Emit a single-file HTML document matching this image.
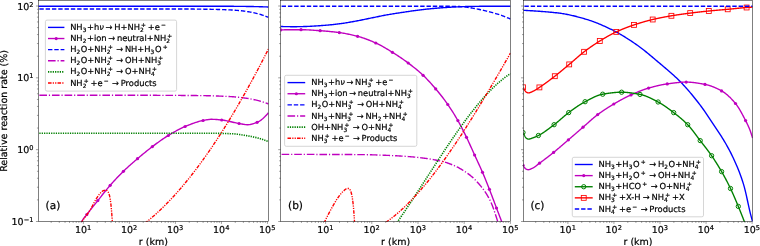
<!DOCTYPE html>
<html><head><meta charset="utf-8"><title>Relative reaction rates</title>
<style>html,body{margin:0;padding:0;background:#fff}svg{display:block}text{stroke:#000;stroke-width:0.2px;paint-order:stroke}</style></head>
<body>
<svg width="760" height="246" viewBox="0 0 760 246" font-family="'DejaVu Sans', 'Liberation Sans', sans-serif" fill="#000" text-rendering="geometricPrecision">
<defs>
<clipPath id="c0"><rect x="38.35" y="0.35" width="230.10" height="221.15"/></clipPath>
<clipPath id="c1"><rect x="280.6" y="0.35" width="229.90" height="221.15"/></clipPath>
<clipPath id="c2"><rect x="523.4" y="0.35" width="229.20" height="221.15"/></clipPath>
</defs>
<rect width="760" height="246" fill="#fff"/>
<g transform="translate(0,0.2)">
<path d="M38.35,6.05 L39.35,6.05 L40.35,6.05 L41.35,6.05 L42.35,6.05 L43.35,6.05 L44.35,6.05 L45.35,6.05 L46.35,6.05 L47.35,6.05 L48.35,6.05 L49.35,6.05 L50.35,6.05 L51.35,6.05 L52.35,6.05 L53.35,6.05 L54.35,6.05 L55.35,6.05 L56.35,6.05 L57.35,6.05 L58.35,6.05 L59.35,6.05 L60.35,6.05 L61.35,6.05 L62.35,6.05 L63.35,6.05 L64.35,6.05 L65.35,6.05 L66.35,6.05 L67.35,6.05 L68.35,6.05 L69.35,6.05 L70.35,6.05 L71.35,6.05 L72.35,6.05 L73.35,6.05 L74.35,6.05 L75.35,6.05 L76.35,6.05 L77.35,6.05 L78.35,6.05 L79.35,6.05 L80.35,6.05 L81.35,6.05 L82.35,6.05 L83.35,6.05 L84.35,6.05 L85.35,6.05 L86.35,6.05 L87.35,6.05 L88.35,6.05 L89.35,6.05 L90.35,6.05 L91.35,6.05 L92.35,6.05 L93.35,6.05 L94.35,6.05 L95.35,6.05 L96.35,6.05 L97.35,6.05 L98.35,6.05 L99.35,6.05 L100.35,6.05 L101.35,6.05 L102.35,6.05 L103.35,6.05 L104.35,6.05 L105.35,6.05 L106.35,6.05 L107.35,6.05 L108.35,6.05 L109.35,6.05 L110.35,6.05 L111.35,6.05 L112.35,6.05 L113.35,6.05 L114.35,6.05 L115.35,6.05 L116.35,6.05 L117.35,6.05 L118.35,6.05 L119.35,6.05 L120.35,6.05 L121.35,6.05 L122.35,6.05 L123.35,6.05 L124.35,6.05 L125.35,6.05 L126.35,6.05 L127.35,6.05 L128.35,6.05 L129.35,6.05 L130.35,6.05 L131.35,6.05 L132.35,6.05 L133.35,6.05 L134.35,6.05 L135.35,6.05 L136.35,6.05 L137.35,6.05 L138.35,6.05 L139.35,6.05 L140.35,6.05 L141.35,6.05 L142.35,6.05 L143.35,6.05 L144.35,6.05 L145.35,6.05 L146.35,6.05 L147.35,6.05 L148.35,6.05 L149.35,6.05 L150.35,6.05 L151.35,6.05 L152.35,6.05 L153.35,6.05 L154.35,6.05 L155.35,6.05 L156.35,6.05 L157.35,6.05 L158.35,6.05 L159.35,6.05 L160.35,6.05 L161.35,6.05 L162.35,6.05 L163.35,6.05 L164.35,6.05 L165.35,6.05 L166.35,6.05 L167.35,6.05 L168.35,6.05 L169.35,6.05 L170.35,6.05 L171.35,6.05 L172.35,6.05 L173.35,6.05 L174.35,6.05 L175.35,6.05 L176.35,6.05 L177.35,6.05 L178.35,6.06 L179.35,6.06 L180.35,6.06 L181.35,6.06 L182.35,6.06 L183.35,6.06 L184.35,6.06 L185.35,6.06 L186.35,6.06 L187.35,6.06 L188.35,6.06 L189.35,6.06 L190.35,6.06 L191.35,6.06 L192.35,6.06 L193.35,6.06 L194.35,6.06 L195.35,6.06 L196.35,6.06 L197.35,6.07 L198.35,6.07 L199.35,6.07 L200.35,6.07 L201.35,6.07 L202.35,6.07 L203.35,6.07 L204.35,6.07 L205.35,6.07 L206.35,6.07 L207.35,6.07 L208.35,6.07 L209.35,6.08 L210.35,6.08 L211.35,6.08 L212.35,6.08 L213.35,6.08 L214.35,6.08 L215.35,6.08 L216.35,6.08 L217.35,6.08 L218.35,6.08 L219.35,6.09 L220.35,6.09 L221.35,6.09 L222.35,6.09 L223.35,6.09 L224.35,6.09 L225.35,6.09 L226.35,6.09 L227.35,6.10 L228.35,6.10 L229.35,6.10 L230.35,6.10 L231.35,6.10 L232.35,6.11 L233.35,6.11 L234.35,6.12 L235.35,6.12 L236.35,6.13 L237.35,6.14 L238.35,6.15 L239.35,6.16 L240.35,6.17 L241.35,6.18 L242.35,6.19 L243.35,6.21 L244.35,6.22 L245.35,6.23 L246.35,6.25 L247.35,6.26 L248.35,6.28 L249.35,6.29 L250.35,6.31 L251.35,6.32 L252.35,6.34 L253.35,6.36 L254.35,6.38 L255.35,6.40 L256.35,6.43 L257.35,6.45 L258.35,6.48 L259.35,6.51 L260.35,6.53 L261.35,6.56 L262.35,6.60 L263.35,6.63 L264.35,6.66 L265.35,6.69 L266.35,6.73 L267.35,6.76 L268.35,6.80 L268.45,6.80" fill="none" stroke="#0000ff" stroke-width="1.38" clip-path="url(#c0)" stroke-linejoin="round"/>
<path d="M81.00,224.00 L82.00,220.88 L83.00,219.08 L84.00,217.69 L85.00,216.52 L86.00,215.39 L87.00,214.13 L88.00,212.82 L89.00,211.51 L90.00,210.22 L91.00,208.94 L92.00,207.67 L93.00,206.41 L94.00,205.15 L95.00,203.90 L96.00,202.65 L97.00,201.40 L98.00,200.15 L99.00,198.89 L100.00,197.63 L101.00,196.36 L102.00,195.10 L103.00,193.83 L104.00,192.58 L105.00,191.33 L106.00,190.09 L107.00,188.87 L108.00,187.67 L109.00,186.49 L110.00,185.33 L111.00,184.19 L112.00,183.06 L113.00,181.95 L114.00,180.84 L115.00,179.75 L116.00,178.67 L117.00,177.61 L118.00,176.55 L119.00,175.51 L120.00,174.49 L121.00,173.47 L122.00,172.47 L123.00,171.49 L124.00,170.52 L125.00,169.57 L126.00,168.63 L127.00,167.70 L128.00,166.79 L129.00,165.88 L130.00,164.99 L131.00,164.10 L132.00,163.23 L133.00,162.36 L134.00,161.49 L135.00,160.63 L136.00,159.78 L137.00,158.93 L138.00,158.07 L139.00,157.23 L140.00,156.38 L141.00,155.54 L142.00,154.70 L143.00,153.87 L144.00,153.04 L145.00,152.22 L146.00,151.41 L147.00,150.60 L148.00,149.80 L149.00,149.01 L150.00,148.23 L151.00,147.46 L152.00,146.70 L153.00,145.95 L154.00,145.20 L155.00,144.46 L156.00,143.71 L157.00,142.98 L158.00,142.25 L159.00,141.53 L160.00,140.81 L161.00,140.10 L162.00,139.41 L163.00,138.72 L164.00,138.05 L165.00,137.39 L166.00,136.74 L167.00,136.10 L168.00,135.48 L169.00,134.88 L170.00,134.27 L171.00,133.67 L172.00,133.08 L173.00,132.49 L174.00,131.91 L175.00,131.34 L176.00,130.78 L177.00,130.23 L178.00,129.69 L179.00,129.16 L180.00,128.65 L181.00,128.15 L182.00,127.67 L183.00,127.21 L184.00,126.77 L185.00,126.34 L186.00,125.93 L187.00,125.52 L188.00,125.12 L189.00,124.72 L190.00,124.32 L191.00,123.94 L192.00,123.56 L193.00,123.19 L194.00,122.84 L195.00,122.49 L196.00,122.16 L197.00,121.85 L198.00,121.54 L199.00,121.26 L200.00,121.00 L201.00,120.75 L202.00,120.52 L203.00,120.32 L204.00,120.12 L205.00,119.93 L206.00,119.73 L207.00,119.55 L208.00,119.39 L209.00,119.26 L210.00,119.16 L211.00,119.11 L212.00,119.10 L213.00,119.12 L214.00,119.16 L215.00,119.21 L216.00,119.28 L217.00,119.36 L218.00,119.44 L219.00,119.54 L220.00,119.63 L221.00,119.73 L222.00,119.83 L223.00,119.95 L224.00,120.09 L225.00,120.26 L226.00,120.44 L227.00,120.64 L228.00,120.86 L229.00,121.08 L230.00,121.31 L231.00,121.55 L232.00,121.79 L233.00,122.02 L234.00,122.26 L235.00,122.49 L236.00,122.71 L237.00,122.91 L238.00,123.11 L239.00,123.28 L240.00,123.46 L241.00,123.65 L242.00,123.84 L243.00,124.03 L244.00,124.20 L245.00,124.34 L246.00,124.44 L247.00,124.49 L248.00,124.49 L249.00,124.41 L250.00,124.27 L251.00,124.07 L252.00,123.82 L253.00,123.54 L254.00,123.22 L255.00,122.87 L256.00,122.51 L257.00,122.14 L258.00,121.72 L259.00,121.20 L260.00,120.59 L261.00,119.89 L262.00,119.11 L263.00,118.26 L264.00,117.34 L265.00,116.36 L266.00,115.32 L267.00,114.24 L268.00,113.12 L268.45,112.60" fill="none" stroke="#bf00bf" stroke-width="1.38" clip-path="url(#c0)" stroke-linejoin="round"/>
<g fill="#bf00bf" clip-path="url(#c0)"><circle cx="86.80" cy="214.40" r="1.6"/><circle cx="97.80" cy="200.40" r="1.6"/><circle cx="110.20" cy="185.10" r="1.6"/><circle cx="123.40" cy="171.10" r="1.6"/><circle cx="137.50" cy="158.50" r="1.6"/><circle cx="152.40" cy="146.40" r="1.6"/><circle cx="168.30" cy="135.30" r="1.6"/><circle cx="185.10" cy="126.30" r="1.6"/><circle cx="203.10" cy="120.30" r="1.6"/><circle cx="221.70" cy="119.80" r="1.6"/><circle cx="239.10" cy="123.30" r="1.6"/><circle cx="257.10" cy="122.10" r="1.6"/></g>
<path d="M38.35,8.80 L39.35,8.80 L40.35,8.80 L41.35,8.80 L42.35,8.80 L43.35,8.80 L44.35,8.80 L45.35,8.80 L46.35,8.80 L47.35,8.80 L48.35,8.80 L49.35,8.80 L50.35,8.80 L51.35,8.80 L52.35,8.80 L53.35,8.80 L54.35,8.80 L55.35,8.80 L56.35,8.80 L57.35,8.80 L58.35,8.80 L59.35,8.80 L60.35,8.80 L61.35,8.80 L62.35,8.80 L63.35,8.80 L64.35,8.80 L65.35,8.80 L66.35,8.80 L67.35,8.80 L68.35,8.80 L69.35,8.80 L70.35,8.80 L71.35,8.80 L72.35,8.80 L73.35,8.80 L74.35,8.80 L75.35,8.80 L76.35,8.80 L77.35,8.80 L78.35,8.80 L79.35,8.80 L80.35,8.80 L81.35,8.80 L82.35,8.80 L83.35,8.80 L84.35,8.80 L85.35,8.80 L86.35,8.80 L87.35,8.80 L88.35,8.80 L89.35,8.80 L90.35,8.80 L91.35,8.80 L92.35,8.80 L93.35,8.80 L94.35,8.80 L95.35,8.80 L96.35,8.80 L97.35,8.80 L98.35,8.80 L99.35,8.80 L100.35,8.80 L101.35,8.80 L102.35,8.80 L103.35,8.80 L104.35,8.80 L105.35,8.80 L106.35,8.80 L107.35,8.80 L108.35,8.80 L109.35,8.80 L110.35,8.80 L111.35,8.80 L112.35,8.80 L113.35,8.80 L114.35,8.80 L115.35,8.80 L116.35,8.80 L117.35,8.80 L118.35,8.80 L119.35,8.80 L120.35,8.80 L121.35,8.80 L122.35,8.80 L123.35,8.80 L124.35,8.80 L125.35,8.80 L126.35,8.80 L127.35,8.80 L128.35,8.80 L129.35,8.80 L130.35,8.80 L131.35,8.80 L132.35,8.80 L133.35,8.80 L134.35,8.80 L135.35,8.80 L136.35,8.80 L137.35,8.80 L138.35,8.80 L139.35,8.80 L140.35,8.80 L141.35,8.80 L142.35,8.80 L143.35,8.80 L144.35,8.81 L145.35,8.81 L146.35,8.81 L147.35,8.81 L148.35,8.81 L149.35,8.81 L150.35,8.81 L151.35,8.81 L152.35,8.81 L153.35,8.81 L154.35,8.81 L155.35,8.81 L156.35,8.81 L157.35,8.81 L158.35,8.81 L159.35,8.81 L160.35,8.82 L161.35,8.82 L162.35,8.82 L163.35,8.82 L164.35,8.82 L165.35,8.82 L166.35,8.82 L167.35,8.82 L168.35,8.82 L169.35,8.82 L170.35,8.82 L171.35,8.83 L172.35,8.83 L173.35,8.83 L174.35,8.83 L175.35,8.83 L176.35,8.83 L177.35,8.83 L178.35,8.83 L179.35,8.83 L180.35,8.84 L181.35,8.84 L182.35,8.84 L183.35,8.84 L184.35,8.84 L185.35,8.84 L186.35,8.84 L187.35,8.85 L188.35,8.85 L189.35,8.85 L190.35,8.85 L191.35,8.85 L192.35,8.86 L193.35,8.86 L194.35,8.87 L195.35,8.88 L196.35,8.89 L197.35,8.90 L198.35,8.91 L199.35,8.92 L200.35,8.93 L201.35,8.95 L202.35,8.96 L203.35,8.98 L204.35,8.99 L205.35,9.01 L206.35,9.03 L207.35,9.05 L208.35,9.07 L209.35,9.08 L210.35,9.10 L211.35,9.12 L212.35,9.14 L213.35,9.16 L214.35,9.18 L215.35,9.20 L216.35,9.22 L217.35,9.25 L218.35,9.27 L219.35,9.30 L220.35,9.33 L221.35,9.36 L222.35,9.39 L223.35,9.42 L224.35,9.46 L225.35,9.50 L226.35,9.54 L227.35,9.58 L228.35,9.62 L229.35,9.67 L230.35,9.73 L231.35,9.78 L232.35,9.85 L233.35,9.91 L234.35,9.98 L235.35,10.06 L236.35,10.14 L237.35,10.22 L238.35,10.31 L239.35,10.40 L240.35,10.50 L241.35,10.60 L242.35,10.71 L243.35,10.83 L244.35,10.96 L245.35,11.10 L246.35,11.25 L247.35,11.40 L248.35,11.56 L249.35,11.73 L250.35,11.91 L251.35,12.09 L252.35,12.28 L253.35,12.47 L254.35,12.68 L255.35,12.91 L256.35,13.15 L257.35,13.41 L258.35,13.68 L259.35,13.96 L260.35,14.26 L261.35,14.56 L262.35,14.88 L263.35,15.22 L264.35,15.58 L265.35,15.95 L266.35,16.34 L267.35,16.74 L268.35,17.16 L268.45,17.20" fill="none" stroke="#0000ff" stroke-width="1.38" stroke-dasharray="4.40 1.90" stroke-dashoffset="-1" clip-path="url(#c0)" stroke-linejoin="round"/>
<path d="M38.35,95.00 L39.35,95.00 L40.35,95.00 L41.35,95.00 L42.35,95.00 L43.35,95.00 L44.35,95.00 L45.35,95.00 L46.35,95.00 L47.35,95.00 L48.35,95.00 L49.35,95.00 L50.35,95.00 L51.35,95.00 L52.35,95.00 L53.35,95.00 L54.35,95.00 L55.35,95.00 L56.35,95.00 L57.35,95.00 L58.35,95.00 L59.35,95.00 L60.35,95.00 L61.35,95.00 L62.35,95.00 L63.35,95.01 L64.35,95.01 L65.35,95.01 L66.35,95.01 L67.35,95.01 L68.35,95.01 L69.35,95.01 L70.35,95.01 L71.35,95.01 L72.35,95.01 L73.35,95.01 L74.35,95.01 L75.35,95.01 L76.35,95.01 L77.35,95.01 L78.35,95.01 L79.35,95.01 L80.35,95.01 L81.35,95.02 L82.35,95.02 L83.35,95.02 L84.35,95.02 L85.35,95.02 L86.35,95.02 L87.35,95.02 L88.35,95.02 L89.35,95.02 L90.35,95.02 L91.35,95.02 L92.35,95.02 L93.35,95.03 L94.35,95.03 L95.35,95.03 L96.35,95.03 L97.35,95.03 L98.35,95.03 L99.35,95.03 L100.35,95.03 L101.35,95.03 L102.35,95.03 L103.35,95.04 L104.35,95.04 L105.35,95.04 L106.35,95.04 L107.35,95.04 L108.35,95.04 L109.35,95.04 L110.35,95.04 L111.35,95.04 L112.35,95.05 L113.35,95.05 L114.35,95.05 L115.35,95.05 L116.35,95.05 L117.35,95.05 L118.35,95.05 L119.35,95.05 L120.35,95.06 L121.35,95.06 L122.35,95.06 L123.35,95.06 L124.35,95.06 L125.35,95.06 L126.35,95.06 L127.35,95.06 L128.35,95.07 L129.35,95.07 L130.35,95.07 L131.35,95.07 L132.35,95.07 L133.35,95.07 L134.35,95.07 L135.35,95.08 L136.35,95.08 L137.35,95.08 L138.35,95.08 L139.35,95.08 L140.35,95.08 L141.35,95.09 L142.35,95.09 L143.35,95.09 L144.35,95.09 L145.35,95.09 L146.35,95.09 L147.35,95.10 L148.35,95.10 L149.35,95.10 L150.35,95.10 L151.35,95.10 L152.35,95.10 L153.35,95.11 L154.35,95.11 L155.35,95.11 L156.35,95.11 L157.35,95.12 L158.35,95.12 L159.35,95.12 L160.35,95.13 L161.35,95.13 L162.35,95.13 L163.35,95.14 L164.35,95.14 L165.35,95.15 L166.35,95.15 L167.35,95.15 L168.35,95.16 L169.35,95.16 L170.35,95.17 L171.35,95.17 L172.35,95.18 L173.35,95.18 L174.35,95.19 L175.35,95.20 L176.35,95.20 L177.35,95.21 L178.35,95.21 L179.35,95.22 L180.35,95.23 L181.35,95.24 L182.35,95.24 L183.35,95.25 L184.35,95.26 L185.35,95.26 L186.35,95.27 L187.35,95.28 L188.35,95.29 L189.35,95.30 L190.35,95.31 L191.35,95.32 L192.35,95.32 L193.35,95.33 L194.35,95.34 L195.35,95.35 L196.35,95.36 L197.35,95.37 L198.35,95.38 L199.35,95.39 L200.35,95.40 L201.35,95.42 L202.35,95.43 L203.35,95.44 L204.35,95.46 L205.35,95.48 L206.35,95.50 L207.35,95.52 L208.35,95.54 L209.35,95.57 L210.35,95.59 L211.35,95.62 L212.35,95.65 L213.35,95.68 L214.35,95.71 L215.35,95.74 L216.35,95.77 L217.35,95.81 L218.35,95.84 L219.35,95.88 L220.35,95.92 L221.35,95.96 L222.35,96.00 L223.35,96.04 L224.35,96.08 L225.35,96.13 L226.35,96.17 L227.35,96.22 L228.35,96.27 L229.35,96.32 L230.35,96.39 L231.35,96.45 L232.35,96.53 L233.35,96.61 L234.35,96.69 L235.35,96.78 L236.35,96.87 L237.35,96.96 L238.35,97.06 L239.35,97.17 L240.35,97.28 L241.35,97.39 L242.35,97.50 L243.35,97.62 L244.35,97.74 L245.35,97.88 L246.35,98.02 L247.35,98.18 L248.35,98.34 L249.35,98.52 L250.35,98.71 L251.35,98.90 L252.35,99.10 L253.35,99.31 L254.35,99.53 L255.35,99.75 L256.35,99.98 L257.35,100.22 L258.35,100.48 L259.35,100.74 L260.35,101.03 L261.35,101.32 L262.35,101.62 L263.35,101.94 L264.35,102.26 L265.35,102.60 L266.35,102.95 L267.35,103.30 L268.35,103.66 L268.45,103.70" fill="none" stroke="#bf00bf" stroke-width="1.38" stroke-dasharray="7.62 1.90 1.19 1.90" stroke-dashoffset="-1" clip-path="url(#c0)" stroke-linejoin="round"/>
<path d="M38.35,133.00 L39.35,133.00 L40.35,133.00 L41.35,133.00 L42.35,133.00 L43.35,133.00 L44.35,133.00 L45.35,133.00 L46.35,133.00 L47.35,133.00 L48.35,133.00 L49.35,133.00 L50.35,133.00 L51.35,133.00 L52.35,133.00 L53.35,133.00 L54.35,133.00 L55.35,133.00 L56.35,133.00 L57.35,133.00 L58.35,133.00 L59.35,133.00 L60.35,133.00 L61.35,133.00 L62.35,133.00 L63.35,133.00 L64.35,133.00 L65.35,133.00 L66.35,133.00 L67.35,133.00 L68.35,133.00 L69.35,133.00 L70.35,133.00 L71.35,133.00 L72.35,133.00 L73.35,133.00 L74.35,133.00 L75.35,133.00 L76.35,133.00 L77.35,133.00 L78.35,133.00 L79.35,133.00 L80.35,133.00 L81.35,133.00 L82.35,133.00 L83.35,133.00 L84.35,133.00 L85.35,133.00 L86.35,133.00 L87.35,133.00 L88.35,133.00 L89.35,133.00 L90.35,133.00 L91.35,133.00 L92.35,133.00 L93.35,133.00 L94.35,133.00 L95.35,133.00 L96.35,133.00 L97.35,133.00 L98.35,133.00 L99.35,133.00 L100.35,133.00 L101.35,133.00 L102.35,133.00 L103.35,133.00 L104.35,133.00 L105.35,133.00 L106.35,133.00 L107.35,133.00 L108.35,133.00 L109.35,133.00 L110.35,133.00 L111.35,133.00 L112.35,133.00 L113.35,133.00 L114.35,133.00 L115.35,133.00 L116.35,133.00 L117.35,133.00 L118.35,133.00 L119.35,133.00 L120.35,133.00 L121.35,133.00 L122.35,133.00 L123.35,133.00 L124.35,133.00 L125.35,133.00 L126.35,133.00 L127.35,133.00 L128.35,133.00 L129.35,133.00 L130.35,133.00 L131.35,133.00 L132.35,133.00 L133.35,133.00 L134.35,133.00 L135.35,133.00 L136.35,133.00 L137.35,133.00 L138.35,133.00 L139.35,133.00 L140.35,133.00 L141.35,133.00 L142.35,133.00 L143.35,133.00 L144.35,133.00 L145.35,133.00 L146.35,133.00 L147.35,133.00 L148.35,133.00 L149.35,133.00 L150.35,133.00 L151.35,133.00 L152.35,133.00 L153.35,133.00 L154.35,133.00 L155.35,133.00 L156.35,133.00 L157.35,133.00 L158.35,133.00 L159.35,133.00 L160.35,133.00 L161.35,133.00 L162.35,133.00 L163.35,133.00 L164.35,133.00 L165.35,133.00 L166.35,133.00 L167.35,133.00 L168.35,133.00 L169.35,133.00 L170.35,133.00 L171.35,133.00 L172.35,133.00 L173.35,133.00 L174.35,133.00 L175.35,133.00 L176.35,133.00 L177.35,133.00 L178.35,133.00 L179.35,133.00 L180.35,133.00 L181.35,133.01 L182.35,133.01 L183.35,133.01 L184.35,133.01 L185.35,133.01 L186.35,133.01 L187.35,133.01 L188.35,133.02 L189.35,133.02 L190.35,133.02 L191.35,133.02 L192.35,133.02 L193.35,133.03 L194.35,133.03 L195.35,133.03 L196.35,133.03 L197.35,133.04 L198.35,133.04 L199.35,133.04 L200.35,133.04 L201.35,133.05 L202.35,133.05 L203.35,133.05 L204.35,133.06 L205.35,133.06 L206.35,133.06 L207.35,133.07 L208.35,133.07 L209.35,133.08 L210.35,133.08 L211.35,133.08 L212.35,133.09 L213.35,133.09 L214.35,133.10 L215.35,133.10 L216.35,133.11 L217.35,133.12 L218.35,133.13 L219.35,133.15 L220.35,133.17 L221.35,133.19 L222.35,133.21 L223.35,133.23 L224.35,133.26 L225.35,133.29 L226.35,133.33 L227.35,133.36 L228.35,133.40 L229.35,133.44 L230.35,133.48 L231.35,133.52 L232.35,133.57 L233.35,133.62 L234.35,133.68 L235.35,133.77 L236.35,133.88 L237.35,134.00 L238.35,134.13 L239.35,134.28 L240.35,134.43 L241.35,134.59 L242.35,134.76 L243.35,134.92 L244.35,135.09 L245.35,135.26 L246.35,135.42 L247.35,135.59 L248.35,135.77 L249.35,135.95 L250.35,136.14 L251.35,136.34 L252.35,136.54 L253.35,136.75 L254.35,136.97 L255.35,137.20 L256.35,137.44 L257.35,137.68 L258.35,137.94 L259.35,138.21 L260.35,138.50 L261.35,138.81 L262.35,139.14 L263.35,139.48 L264.35,139.83 L265.35,140.20 L266.35,140.57 L267.35,140.96 L268.35,141.36 L268.45,141.40" fill="none" stroke="#008000" stroke-width="1.6" stroke-dasharray="1.25 1.1" stroke-dashoffset="-1" clip-path="url(#c0)" stroke-linejoin="round"/>
<path d="M80.50,224.00 L80.75,223.56 L81.00,223.12 L81.25,222.69 L81.50,222.26 L81.75,221.83 L82.00,221.42 L82.25,221.02 L82.50,220.63 L82.75,220.24 L83.00,219.87 L83.25,219.49 L83.50,219.13 L83.75,218.77 L84.00,218.41 L84.25,218.06 L84.50,217.71 L84.75,217.36 L85.00,217.02 L85.25,216.68 L85.50,216.34 L85.75,216.00 L86.00,215.66 L86.25,215.32 L86.50,214.99 L86.75,214.65 L87.00,214.31 L87.25,213.97 L87.50,213.63 L87.75,213.28 L88.00,212.93 L88.25,212.58 L88.50,212.23 L88.75,211.86 L89.00,211.50 L89.25,211.13 L89.50,210.75 L89.75,210.37 L90.00,209.98 L90.25,209.58 L90.50,209.17 L90.75,208.75 L91.00,208.32 L91.25,207.88 L91.50,207.43 L91.75,206.96 L92.00,206.50 L92.25,206.02 L92.50,205.54 L92.75,205.06 L93.00,204.58 L93.25,204.09 L93.50,203.61 L93.75,203.13 L94.00,202.64 L94.25,202.17 L94.50,201.70 L94.75,201.23 L95.00,200.77 L95.25,200.32 L95.50,199.88 L95.75,199.45 L96.00,199.04 L96.25,198.63 L96.50,198.25 L96.75,197.86 L97.00,197.47 L97.25,197.09 L97.50,196.71 L97.75,196.34 L98.00,195.97 L98.25,195.60 L98.50,195.25 L98.75,194.90 L99.00,194.56 L99.25,194.24 L99.50,193.92 L99.75,193.62 L100.00,193.33 L100.25,193.06 L100.50,192.80 L100.75,192.55 L101.00,192.29 L101.25,192.04 L101.50,191.79 L101.75,191.55 L102.00,191.32 L102.25,191.11 L102.50,190.92 L102.75,190.75 L103.00,190.60 L103.25,190.48 L103.50,190.40 L103.75,190.34 L104.00,190.27 L104.25,190.22 L104.50,190.17 L104.75,190.12 L105.00,190.08 L105.25,190.05 L105.50,190.02 L105.75,190.01 L106.00,190.00 L106.25,190.03 L106.50,190.13 L106.75,190.29 L107.00,190.49 L107.25,190.73 L107.50,191.00 L107.75,191.29 L108.00,191.60 L108.25,191.97 L108.50,192.45 L108.75,193.04 L109.00,193.73 L109.25,194.50 L109.50,195.36 L109.75,196.45 L110.00,197.77 L110.25,199.28 L110.50,200.96 L110.75,202.78 L111.00,204.93 L111.25,207.45 L111.50,210.24 L111.75,213.22 L112.00,216.67 L112.25,220.38 L112.50,224.00" fill="none" stroke="#ff0000" stroke-width="1.38" stroke-dasharray="3.57 1.19 1.19 1.19 1.19 1.19" stroke-dashoffset="-1" clip-path="url(#c0)" stroke-linejoin="round"/>
<path d="M144.00,223.74 L145.00,222.97 L146.00,222.18 L147.00,221.38 L148.00,220.57 L149.00,219.75 L150.00,218.92 L151.00,218.08 L152.00,217.22 L153.00,216.36 L154.00,215.48 L155.00,214.60 L156.00,213.70 L157.00,212.79 L158.00,211.87 L159.00,210.94 L160.00,210.00 L161.00,209.05 L162.00,208.09 L163.00,207.12 L164.00,206.13 L165.00,205.14 L166.00,204.13 L167.00,203.12 L168.00,202.09 L169.00,201.05 L170.00,200.00 L171.00,198.95 L172.00,197.88 L173.00,196.80 L174.00,195.71 L175.00,194.61 L176.00,193.50 L177.00,192.38 L178.00,191.24 L179.00,190.10 L180.00,188.95 L181.00,187.79 L182.00,186.61 L183.00,185.43 L184.00,184.24 L185.00,183.03 L186.00,181.82 L187.00,180.60 L188.00,179.36 L189.00,178.12 L190.00,176.86 L191.00,175.60 L192.00,174.32 L193.00,173.04 L194.00,171.74 L195.00,170.44 L196.00,169.12 L197.00,167.80 L198.00,166.46 L199.00,165.12 L200.00,163.76 L201.00,162.40 L202.00,161.02 L203.00,159.64 L204.00,158.25 L205.00,156.84 L206.00,155.43 L207.00,154.01 L208.00,152.57 L209.00,151.13 L210.00,149.68 L211.00,148.21 L212.00,146.74 L213.00,145.26 L214.00,143.77 L215.00,142.27 L216.00,140.76 L217.00,139.24 L218.00,137.71 L219.00,136.17 L220.00,134.63 L221.00,133.07 L222.00,131.50 L223.00,129.93 L224.00,128.34 L225.00,126.75 L226.00,125.14 L227.00,123.53 L228.00,121.91 L229.00,120.27 L230.00,118.63 L231.00,116.98 L232.00,115.32 L233.00,113.65 L234.00,111.98 L235.00,110.29 L236.00,108.59 L237.00,106.89 L238.00,105.18 L239.00,103.45 L240.00,101.72 L241.00,99.98 L242.00,98.23 L243.00,96.47 L244.00,94.70 L245.00,92.93 L246.00,91.14 L247.00,89.35 L248.00,87.54 L249.00,85.73 L250.00,83.91 L251.00,82.08 L252.00,80.25 L253.00,78.40 L254.00,76.54 L255.00,74.68 L256.00,72.81 L257.00,70.93 L258.00,69.04 L259.00,67.14 L260.00,65.23 L261.00,63.32 L262.00,61.39 L263.00,59.46 L264.00,57.52 L265.00,55.57 L266.00,53.61 L267.00,51.65 L268.00,49.67 L268.45,48.78" fill="none" stroke="#ff0000" stroke-width="1.38" stroke-dasharray="3.57 1.19 1.19 1.19 1.19 1.19" stroke-dashoffset="-1" clip-path="url(#c0)" stroke-linejoin="round"/>
<path d="M280.60,26.30 L281.60,26.33 L282.60,26.36 L283.60,26.39 L284.60,26.41 L285.60,26.43 L286.60,26.44 L287.60,26.46 L288.60,26.47 L289.60,26.48 L290.60,26.49 L291.60,26.49 L292.60,26.50 L293.60,26.50 L294.60,26.50 L295.60,26.50 L296.60,26.49 L297.60,26.48 L298.60,26.46 L299.60,26.44 L300.60,26.42 L301.60,26.40 L302.60,26.37 L303.60,26.34 L304.60,26.31 L305.60,26.28 L306.60,26.25 L307.60,26.21 L308.60,26.17 L309.60,26.12 L310.60,26.07 L311.60,26.01 L312.60,25.96 L313.60,25.90 L314.60,25.84 L315.60,25.77 L316.60,25.70 L317.60,25.64 L318.60,25.57 L319.60,25.50 L320.60,25.43 L321.60,25.36 L322.60,25.28 L323.60,25.21 L324.60,25.13 L325.60,25.05 L326.60,24.96 L327.60,24.87 L328.60,24.78 L329.60,24.69 L330.60,24.59 L331.60,24.49 L332.60,24.39 L333.60,24.28 L334.60,24.18 L335.60,24.07 L336.60,23.95 L337.60,23.84 L338.60,23.72 L339.60,23.59 L340.60,23.45 L341.60,23.31 L342.60,23.17 L343.60,23.02 L344.60,22.86 L345.60,22.70 L346.60,22.54 L347.60,22.37 L348.60,22.20 L349.60,22.03 L350.60,21.85 L351.60,21.68 L352.60,21.50 L353.60,21.32 L354.60,21.15 L355.60,20.97 L356.60,20.78 L357.60,20.59 L358.60,20.39 L359.60,20.20 L360.60,20.00 L361.60,19.79 L362.60,19.59 L363.60,19.38 L364.60,19.17 L365.60,18.97 L366.60,18.76 L367.60,18.55 L368.60,18.35 L369.60,18.14 L370.60,17.94 L371.60,17.74 L372.60,17.54 L373.60,17.33 L374.60,17.12 L375.60,16.92 L376.60,16.71 L377.60,16.50 L378.60,16.29 L379.60,16.09 L380.60,15.88 L381.60,15.68 L382.60,15.48 L383.60,15.29 L384.60,15.10 L385.60,14.91 L386.60,14.72 L387.60,14.55 L388.60,14.37 L389.60,14.20 L390.60,14.04 L391.60,13.87 L392.60,13.71 L393.60,13.55 L394.60,13.39 L395.60,13.23 L396.60,13.08 L397.60,12.93 L398.60,12.78 L399.60,12.63 L400.60,12.48 L401.60,12.33 L402.60,12.18 L403.60,12.03 L404.60,11.88 L405.60,11.73 L406.60,11.58 L407.60,11.43 L408.60,11.29 L409.60,11.14 L410.60,10.99 L411.60,10.85 L412.60,10.70 L413.60,10.56 L414.60,10.42 L415.60,10.29 L416.60,10.15 L417.60,10.02 L418.60,9.90 L419.60,9.77 L420.60,9.65 L421.60,9.53 L422.60,9.42 L423.60,9.30 L424.60,9.19 L425.60,9.08 L426.60,8.97 L427.60,8.86 L428.60,8.76 L429.60,8.65 L430.60,8.55 L431.60,8.45 L432.60,8.36 L433.60,8.27 L434.60,8.18 L435.60,8.09 L436.60,8.01 L437.60,7.93 L438.60,7.85 L439.60,7.77 L440.60,7.69 L441.60,7.61 L442.60,7.54 L443.60,7.46 L444.60,7.39 L445.60,7.32 L446.60,7.25 L447.60,7.18 L448.60,7.12 L449.60,7.06 L450.60,7.00 L451.60,6.94 L452.60,6.88 L453.60,6.83 L454.60,6.78 L455.60,6.74 L456.60,6.70 L457.60,6.66 L458.60,6.62 L459.60,6.58 L460.60,6.54 L461.60,6.50 L462.60,6.46 L463.60,6.43 L464.60,6.39 L465.60,6.36 L466.60,6.33 L467.60,6.30 L468.60,6.27 L469.60,6.25 L470.60,6.22 L471.60,6.20 L472.60,6.18 L473.60,6.17 L474.60,6.15 L475.60,6.14 L476.60,6.13 L477.60,6.12 L478.60,6.12 L479.60,6.11 L480.60,6.10 L481.60,6.09 L482.60,6.08 L483.60,6.08 L484.60,6.07 L485.60,6.06 L486.60,6.06 L487.60,6.06 L488.60,6.05 L489.60,6.05 L490.60,6.05 L491.60,6.05 L492.60,6.05 L493.60,6.05 L494.60,6.05 L495.60,6.05 L496.60,6.05 L497.60,6.05 L498.60,6.05 L499.60,6.05 L500.60,6.05 L501.60,6.05 L502.60,6.05 L503.60,6.05 L504.60,6.05 L505.60,6.05 L506.60,6.05 L507.60,6.05 L508.60,6.05 L509.60,6.05 L510.50,6.05" fill="none" stroke="#0000ff" stroke-width="1.38" clip-path="url(#c1)" stroke-linejoin="round"/>
<path d="M280.70,29.70 L281.70,29.67 L282.70,29.65 L283.70,29.62 L284.70,29.60 L285.70,29.59 L286.70,29.57 L287.70,29.56 L288.70,29.54 L289.70,29.53 L290.70,29.53 L291.70,29.52 L292.70,29.51 L293.70,29.51 L294.70,29.51 L295.70,29.50 L296.70,29.50 L297.70,29.50 L298.70,29.50 L299.70,29.50 L300.70,29.50 L301.70,29.50 L302.70,29.51 L303.70,29.53 L304.70,29.56 L305.70,29.59 L306.70,29.63 L307.70,29.68 L308.70,29.73 L309.70,29.79 L310.70,29.85 L311.70,29.91 L312.70,29.98 L313.70,30.04 L314.70,30.12 L315.70,30.19 L316.70,30.26 L317.70,30.33 L318.70,30.40 L319.70,30.47 L320.70,30.54 L321.70,30.61 L322.70,30.69 L323.70,30.76 L324.70,30.85 L325.70,30.93 L326.70,31.02 L327.70,31.11 L328.70,31.20 L329.70,31.29 L330.70,31.39 L331.70,31.50 L332.70,31.60 L333.70,31.71 L334.70,31.83 L335.70,31.95 L336.70,32.07 L337.70,32.19 L338.70,32.32 L339.70,32.45 L340.70,32.59 L341.70,32.74 L342.70,32.90 L343.70,33.07 L344.70,33.24 L345.70,33.42 L346.70,33.61 L347.70,33.81 L348.70,34.01 L349.70,34.22 L350.70,34.44 L351.70,34.66 L352.70,34.89 L353.70,35.12 L354.70,35.37 L355.70,35.61 L356.70,35.87 L357.70,36.13 L358.70,36.40 L359.70,36.68 L360.70,36.98 L361.70,37.29 L362.70,37.61 L363.70,37.95 L364.70,38.30 L365.70,38.66 L366.70,39.03 L367.70,39.41 L368.70,39.80 L369.70,40.20 L370.70,40.61 L371.70,41.02 L372.70,41.45 L373.70,41.88 L374.70,42.31 L375.70,42.76 L376.70,43.21 L377.70,43.68 L378.70,44.18 L379.70,44.69 L380.70,45.21 L381.70,45.75 L382.70,46.31 L383.70,46.87 L384.70,47.45 L385.70,48.03 L386.70,48.63 L387.70,49.23 L388.70,49.83 L389.70,50.44 L390.70,51.06 L391.70,51.67 L392.70,52.28 L393.70,52.90 L394.70,53.53 L395.70,54.17 L396.70,54.81 L397.70,55.46 L398.70,56.12 L399.70,56.79 L400.70,57.46 L401.70,58.15 L402.70,58.84 L403.70,59.54 L404.70,60.25 L405.70,60.97 L406.70,61.69 L407.70,62.43 L408.70,63.17 L409.70,63.92 L410.70,64.68 L411.70,65.45 L412.70,66.23 L413.70,67.02 L414.70,67.82 L415.70,68.63 L416.70,69.45 L417.70,70.29 L418.70,71.15 L419.70,72.02 L420.70,72.90 L421.70,73.80 L422.70,74.73 L423.70,75.67 L424.70,76.64 L425.70,77.64 L426.70,78.66 L427.70,79.70 L428.70,80.77 L429.70,81.86 L430.70,82.96 L431.70,84.08 L432.70,85.22 L433.70,86.37 L434.70,87.53 L435.70,88.70 L436.70,89.88 L437.70,91.08 L438.70,92.30 L439.70,93.53 L440.70,94.78 L441.70,96.05 L442.70,97.34 L443.70,98.66 L444.70,99.99 L445.70,101.36 L446.70,102.74 L447.70,104.16 L448.70,105.60 L449.70,107.08 L450.70,108.59 L451.70,110.13 L452.70,111.70 L453.70,113.31 L454.70,114.94 L455.70,116.61 L456.70,118.32 L457.70,120.05 L458.70,121.82 L459.70,123.65 L460.70,125.53 L461.70,127.45 L462.70,129.41 L463.70,131.40 L464.70,133.42 L465.70,135.46 L466.70,137.51 L467.70,139.61 L468.70,141.76 L469.70,143.94 L470.70,146.15 L471.70,148.38 L472.70,150.60 L473.70,152.82 L474.70,155.02 L475.70,157.19 L476.70,159.34 L477.70,161.49 L478.70,163.64 L479.70,165.81 L480.70,168.02 L481.70,170.26 L482.70,172.57 L483.70,174.93 L484.70,177.34 L485.70,179.79 L486.70,182.27 L487.70,184.79 L488.70,187.32 L489.70,189.87 L490.70,192.45 L491.70,195.06 L492.70,197.70 L493.70,200.36 L494.70,203.02 L495.70,205.68 L496.70,208.33 L497.70,210.97 L498.70,213.60 L499.70,216.24 L500.70,218.90 L501.70,221.57 L502.60,224.00" fill="none" stroke="#bf00bf" stroke-width="1.38" clip-path="url(#c1)" stroke-linejoin="round"/>
<g fill="#bf00bf" clip-path="url(#c1)"><circle cx="280.70" cy="29.70" r="1.6"/><circle cx="301.00" cy="29.50" r="1.6"/><circle cx="320.10" cy="30.50" r="1.6"/><circle cx="339.30" cy="32.40" r="1.6"/><circle cx="357.60" cy="36.10" r="1.6"/><circle cx="375.80" cy="42.80" r="1.6"/><circle cx="392.40" cy="52.10" r="1.6"/><circle cx="408.20" cy="62.80" r="1.6"/><circle cx="423.10" cy="75.10" r="1.6"/><circle cx="435.70" cy="88.70" r="1.6"/><circle cx="447.80" cy="104.30" r="1.6"/><circle cx="457.90" cy="120.40" r="1.6"/><circle cx="466.50" cy="137.10" r="1.6"/><circle cx="474.60" cy="154.80" r="1.6"/><circle cx="482.50" cy="172.10" r="1.6"/><circle cx="489.40" cy="189.10" r="1.6"/><circle cx="496.50" cy="207.80" r="1.6"/></g>
<path d="M280.60,6.00 L281.60,6.00 L282.60,6.00 L283.60,6.00 L284.60,6.00 L285.60,6.00 L286.60,6.00 L287.60,6.00 L288.60,6.00 L289.60,6.00 L290.60,6.00 L291.60,6.00 L292.60,6.00 L293.60,6.00 L294.60,6.00 L295.60,6.00 L296.60,6.00 L297.60,6.00 L298.60,6.00 L299.60,6.00 L300.60,6.00 L301.60,6.00 L302.60,6.00 L303.60,6.00 L304.60,6.00 L305.60,6.00 L306.60,6.00 L307.60,6.00 L308.60,6.00 L309.60,6.00 L310.60,6.00 L311.60,6.00 L312.60,6.00 L313.60,6.00 L314.60,6.00 L315.60,6.00 L316.60,6.00 L317.60,6.00 L318.60,6.00 L319.60,6.00 L320.60,6.00 L321.60,6.00 L322.60,6.00 L323.60,6.00 L324.60,6.00 L325.60,6.00 L326.60,6.00 L327.60,6.00 L328.60,6.00 L329.60,6.00 L330.60,6.00 L331.60,6.00 L332.60,6.00 L333.60,6.00 L334.60,6.00 L335.60,6.00 L336.60,6.00 L337.60,6.00 L338.60,6.00 L339.60,6.00 L340.60,6.00 L341.60,6.00 L342.60,6.00 L343.60,6.00 L344.60,6.00 L345.60,6.00 L346.60,6.00 L347.60,6.00 L348.60,6.00 L349.60,6.00 L350.60,6.00 L351.60,6.00 L352.60,6.00 L353.60,6.00 L354.60,6.00 L355.60,6.00 L356.60,6.00 L357.60,6.00 L358.60,6.00 L359.60,6.00 L360.60,6.00 L361.60,6.00 L362.60,6.00 L363.60,6.00 L364.60,6.00 L365.60,6.00 L366.60,6.00 L367.60,6.00 L368.60,6.00 L369.60,6.00 L370.60,6.00 L371.60,6.00 L372.60,6.00 L373.60,6.00 L374.60,6.00 L375.60,6.00 L376.60,6.00 L377.60,6.00 L378.60,6.00 L379.60,6.00 L380.60,6.00 L381.60,6.00 L382.60,6.00 L383.60,6.00 L384.60,6.00 L385.60,6.00 L386.60,6.00 L387.60,6.00 L388.60,6.00 L389.60,6.00 L390.60,6.00 L391.60,6.00 L392.60,6.00 L393.60,6.00 L394.60,6.00 L395.60,6.00 L396.60,6.00 L397.60,6.00 L398.60,6.00 L399.60,6.00 L400.60,6.00 L401.60,6.00 L402.60,6.00 L403.60,6.00 L404.60,6.00 L405.60,6.00 L406.60,6.00 L407.60,6.00 L408.60,6.00 L409.60,6.00 L410.60,6.00 L411.60,6.00 L412.60,6.00 L413.60,6.00 L414.60,6.00 L415.60,6.01 L416.60,6.01 L417.60,6.01 L418.60,6.01 L419.60,6.01 L420.60,6.01 L421.60,6.01 L422.60,6.01 L423.60,6.01 L424.60,6.01 L425.60,6.01 L426.60,6.02 L427.60,6.02 L428.60,6.02 L429.60,6.02 L430.60,6.02 L431.60,6.02 L432.60,6.02 L433.60,6.03 L434.60,6.03 L435.60,6.03 L436.60,6.03 L437.60,6.03 L438.60,6.04 L439.60,6.04 L440.60,6.04 L441.60,6.04 L442.60,6.04 L443.60,6.05 L444.60,6.05 L445.60,6.05 L446.60,6.06 L447.60,6.07 L448.60,6.08 L449.60,6.09 L450.60,6.11 L451.60,6.12 L452.60,6.14 L453.60,6.17 L454.60,6.19 L455.60,6.22 L456.60,6.25 L457.60,6.28 L458.60,6.31 L459.60,6.35 L460.60,6.38 L461.60,6.43 L462.60,6.49 L463.60,6.58 L464.60,6.68 L465.60,6.80 L466.60,6.94 L467.60,7.09 L468.60,7.25 L469.60,7.42 L470.60,7.60 L471.60,7.78 L472.60,7.97 L473.60,8.16 L474.60,8.34 L475.60,8.53 L476.60,8.71 L477.60,8.90 L478.60,9.10 L479.60,9.31 L480.60,9.52 L481.60,9.74 L482.60,9.97 L483.60,10.21 L484.60,10.45 L485.60,10.69 L486.60,10.94 L487.60,11.19 L488.60,11.45 L489.60,11.71 L490.60,11.97 L491.60,12.23 L492.60,12.50 L493.60,12.77 L494.60,13.05 L495.60,13.34 L496.60,13.63 L497.60,13.93 L498.60,14.24 L499.60,14.56 L500.60,14.90 L501.60,15.24 L502.60,15.60 L503.60,15.97 L504.60,16.36 L505.60,16.76 L506.60,17.18 L507.60,17.60 L508.60,18.04 L509.60,18.49 L510.50,18.90" fill="none" stroke="#0000ff" stroke-width="1.38" stroke-dasharray="4.40 1.90" stroke-dashoffset="-1" clip-path="url(#c1)" stroke-linejoin="round"/>
<path d="M280.60,154.20 L281.60,154.20 L282.60,154.20 L283.60,154.20 L284.60,154.20 L285.60,154.20 L286.60,154.20 L287.60,154.20 L288.60,154.20 L289.60,154.20 L290.60,154.20 L291.60,154.20 L292.60,154.20 L293.60,154.20 L294.60,154.21 L295.60,154.21 L296.60,154.21 L297.60,154.21 L298.60,154.21 L299.60,154.21 L300.60,154.21 L301.60,154.21 L302.60,154.21 L303.60,154.22 L304.60,154.22 L305.60,154.22 L306.60,154.22 L307.60,154.22 L308.60,154.22 L309.60,154.22 L310.60,154.23 L311.60,154.23 L312.60,154.23 L313.60,154.23 L314.60,154.23 L315.60,154.24 L316.60,154.24 L317.60,154.24 L318.60,154.24 L319.60,154.25 L320.60,154.25 L321.60,154.25 L322.60,154.25 L323.60,154.26 L324.60,154.26 L325.60,154.26 L326.60,154.26 L327.60,154.27 L328.60,154.27 L329.60,154.27 L330.60,154.28 L331.60,154.28 L332.60,154.28 L333.60,154.29 L334.60,154.29 L335.60,154.29 L336.60,154.30 L337.60,154.30 L338.60,154.30 L339.60,154.31 L340.60,154.31 L341.60,154.32 L342.60,154.32 L343.60,154.32 L344.60,154.33 L345.60,154.33 L346.60,154.34 L347.60,154.34 L348.60,154.34 L349.60,154.35 L350.60,154.35 L351.60,154.36 L352.60,154.36 L353.60,154.37 L354.60,154.37 L355.60,154.38 L356.60,154.38 L357.60,154.39 L358.60,154.39 L359.60,154.40 L360.60,154.40 L361.60,154.41 L362.60,154.42 L363.60,154.43 L364.60,154.45 L365.60,154.47 L366.60,154.48 L367.60,154.50 L368.60,154.53 L369.60,154.55 L370.60,154.58 L371.60,154.60 L372.60,154.63 L373.60,154.66 L374.60,154.69 L375.60,154.73 L376.60,154.76 L377.60,154.79 L378.60,154.83 L379.60,154.87 L380.60,154.90 L381.60,154.94 L382.60,154.98 L383.60,155.02 L384.60,155.06 L385.60,155.10 L386.60,155.14 L387.60,155.18 L388.60,155.23 L389.60,155.27 L390.60,155.31 L391.60,155.35 L392.60,155.40 L393.60,155.44 L394.60,155.49 L395.60,155.54 L396.60,155.60 L397.60,155.65 L398.60,155.71 L399.60,155.77 L400.60,155.83 L401.60,155.89 L402.60,155.96 L403.60,156.03 L404.60,156.10 L405.60,156.17 L406.60,156.24 L407.60,156.32 L408.60,156.40 L409.60,156.48 L410.60,156.56 L411.60,156.64 L412.60,156.73 L413.60,156.82 L414.60,156.91 L415.60,157.00 L416.60,157.10 L417.60,157.20 L418.60,157.30 L419.60,157.41 L420.60,157.52 L421.60,157.64 L422.60,157.77 L423.60,157.89 L424.60,158.03 L425.60,158.16 L426.60,158.31 L427.60,158.45 L428.60,158.60 L429.60,158.76 L430.60,158.92 L431.60,159.09 L432.60,159.26 L433.60,159.44 L434.60,159.62 L435.60,159.81 L436.60,160.00 L437.60,160.20 L438.60,160.41 L439.60,160.61 L440.60,160.83 L441.60,161.07 L442.60,161.32 L443.60,161.59 L444.60,161.88 L445.60,162.18 L446.60,162.50 L447.60,162.83 L448.60,163.18 L449.60,163.55 L450.60,163.92 L451.60,164.31 L452.60,164.71 L453.60,165.13 L454.60,165.56 L455.60,166.02 L456.60,166.50 L457.60,167.00 L458.60,167.53 L459.60,168.08 L460.60,168.65 L461.60,169.24 L462.60,169.85 L463.60,170.49 L464.60,171.14 L465.60,171.81 L466.60,172.50 L467.60,173.22 L468.60,173.95 L469.60,174.70 L470.60,175.47 L471.60,176.29 L472.60,177.17 L473.60,178.09 L474.60,179.06 L475.60,180.07 L476.60,181.12 L477.60,182.22 L478.60,183.35 L479.60,184.52 L480.60,185.73 L481.60,186.96 L482.60,188.24 L483.60,189.57 L484.60,190.96 L485.60,192.43 L486.60,193.98 L487.60,195.62 L488.60,197.36 L489.60,199.22 L490.60,201.24 L491.60,203.54 L492.60,206.09 L493.60,208.84 L494.60,211.75 L495.60,214.77 L496.60,217.84 L497.60,220.95 L498.50,224.00" fill="none" stroke="#bf00bf" stroke-width="1.38" stroke-dasharray="7.62 1.90 1.19 1.90" stroke-dashoffset="-1" clip-path="url(#c1)" stroke-linejoin="round"/>
<path d="M395.00,225.16 L396.00,223.75 L397.00,222.32 L398.00,220.89 L399.00,219.45 L400.00,218.01 L401.00,216.55 L402.00,215.09 L403.00,213.63 L404.00,212.15 L405.00,210.67 L406.00,209.19 L407.00,207.70 L408.00,206.20 L409.00,204.70 L410.00,203.20 L411.00,201.69 L412.00,200.17 L413.00,198.65 L414.00,197.13 L415.00,195.61 L416.00,194.08 L417.00,192.55 L418.00,191.01 L419.00,189.48 L420.00,187.94 L421.00,186.40 L422.00,184.86 L423.00,183.32 L424.00,181.77 L425.00,180.23 L426.00,178.68 L427.00,177.14 L428.00,175.59 L429.00,174.04 L430.00,172.50 L431.00,170.96 L432.00,169.41 L433.00,167.87 L434.00,166.33 L435.00,164.79 L436.00,163.26 L437.00,161.72 L438.00,160.19 L439.00,158.66 L440.00,157.14 L441.00,155.62 L442.00,154.10 L443.00,152.58 L444.00,151.07 L445.00,149.57 L446.00,148.07 L447.00,146.57 L448.00,145.08 L449.00,143.59 L450.00,142.11 L451.00,140.64 L452.00,139.17 L453.00,137.71 L454.00,136.26 L455.00,134.81 L456.00,133.37 L457.00,131.94 L458.00,130.51 L459.00,129.10 L460.00,127.69 L461.00,126.29 L462.00,124.90 L463.00,123.52 L464.00,122.15 L465.00,120.79 L466.00,119.43 L467.00,118.09 L468.00,116.76 L469.00,115.44 L470.00,114.13 L471.00,112.83 L472.00,111.54 L473.00,110.27 L474.00,109.01 L475.00,107.76 L476.00,106.52 L477.00,105.29 L478.00,104.08 L479.00,102.88 L480.00,101.69 L481.00,100.52 L482.00,99.36 L483.00,98.22 L484.00,97.09 L485.00,95.98 L486.00,94.88 L487.00,93.80 L488.00,92.73 L489.00,91.68 L490.00,90.64 L491.00,89.62 L492.00,88.62 L493.00,87.64 L494.00,86.67 L495.00,85.72 L496.00,84.79 L497.00,83.87 L498.00,82.98 L499.00,82.10 L500.00,81.24 L501.00,80.40 L502.00,79.58 L503.00,78.78 L504.00,78.00 L505.00,77.24 L506.00,76.50 L507.00,75.78 L508.00,75.08 L509.00,74.40 L510.00,73.75 L510.50,73.43" fill="none" stroke="#008000" stroke-width="1.6" stroke-dasharray="1.25 1.1" stroke-dashoffset="-1" clip-path="url(#c1)" stroke-linejoin="round"/>
<path d="M323.60,224.00 L323.85,223.42 L324.10,222.85 L324.35,222.29 L324.60,221.73 L324.85,221.19 L325.10,220.67 L325.35,220.14 L325.60,219.62 L325.85,219.10 L326.10,218.59 L326.35,218.08 L326.60,217.57 L326.85,217.07 L327.10,216.57 L327.35,216.08 L327.60,215.58 L327.85,215.09 L328.10,214.61 L328.35,214.13 L328.60,213.65 L328.85,213.17 L329.10,212.70 L329.35,212.23 L329.60,211.76 L329.85,211.30 L330.10,210.84 L330.35,210.38 L330.60,209.92 L330.85,209.47 L331.10,209.02 L331.35,208.57 L331.60,208.12 L331.85,207.67 L332.10,207.22 L332.35,206.78 L332.60,206.33 L332.85,205.88 L333.10,205.44 L333.35,205.00 L333.60,204.56 L333.85,204.12 L334.10,203.69 L334.35,203.26 L334.60,202.83 L334.85,202.40 L335.10,201.98 L335.35,201.56 L335.60,201.15 L335.85,200.74 L336.10,200.34 L336.35,199.94 L336.60,199.54 L336.85,199.15 L337.10,198.77 L337.35,198.39 L337.60,198.02 L337.85,197.66 L338.10,197.30 L338.35,196.94 L338.60,196.60 L338.85,196.26 L339.10,195.92 L339.35,195.58 L339.60,195.25 L339.85,194.92 L340.10,194.59 L340.35,194.27 L340.60,193.95 L340.85,193.64 L341.10,193.34 L341.35,193.04 L341.60,192.74 L341.85,192.46 L342.10,192.18 L342.35,191.91 L342.60,191.65 L342.85,191.40 L343.10,191.16 L343.35,190.93 L343.60,190.71 L343.85,190.49 L344.10,190.27 L344.35,190.04 L344.60,189.83 L344.85,189.62 L345.10,189.42 L345.35,189.23 L345.60,189.06 L345.85,188.91 L346.10,188.78 L346.35,188.67 L346.60,188.60 L346.85,188.54 L347.10,188.49 L347.35,188.44 L347.60,188.39 L347.85,188.35 L348.10,188.32 L348.35,188.31 L348.60,188.30 L348.85,188.35 L349.10,188.49 L349.35,188.71 L349.60,188.99 L349.85,189.31 L350.10,189.66 L350.35,190.05 L350.60,190.60 L350.85,191.30 L351.10,192.11 L351.35,193.01 L351.60,194.01 L351.85,195.16 L352.10,196.47 L352.35,197.94 L352.60,199.58 L352.85,201.39 L353.10,203.36 L353.35,205.62 L353.60,208.55 L353.85,211.96 L354.10,215.60 L354.35,219.23 L354.60,222.65 L354.70,224.00" fill="none" stroke="#ff0000" stroke-width="1.38" stroke-dasharray="3.57 1.19 1.19 1.19 1.19 1.19" stroke-dashoffset="-1" clip-path="url(#c1)" stroke-linejoin="round"/>
<path d="M385.00,222.68 L386.00,222.00 L387.00,221.30 L388.00,220.59 L389.00,219.87 L390.00,219.13 L391.00,218.38 L392.00,217.61 L393.00,216.82 L394.00,216.03 L395.00,215.21 L396.00,214.39 L397.00,213.55 L398.00,212.69 L399.00,211.82 L400.00,210.94 L401.00,210.04 L402.00,209.13 L403.00,208.21 L404.00,207.27 L405.00,206.32 L406.00,205.35 L407.00,204.38 L408.00,203.39 L409.00,202.38 L410.00,201.37 L411.00,200.34 L412.00,199.30 L413.00,198.24 L414.00,197.18 L415.00,196.10 L416.00,195.01 L417.00,193.90 L418.00,192.79 L419.00,191.66 L420.00,190.52 L421.00,189.37 L422.00,188.21 L423.00,187.04 L424.00,185.86 L425.00,184.66 L426.00,183.45 L427.00,182.24 L428.00,181.01 L429.00,179.77 L430.00,178.52 L431.00,177.26 L432.00,175.99 L433.00,174.71 L434.00,173.42 L435.00,172.12 L436.00,170.80 L437.00,169.48 L438.00,168.15 L439.00,166.81 L440.00,165.46 L441.00,164.10 L442.00,162.73 L443.00,161.35 L444.00,159.97 L445.00,158.57 L446.00,157.17 L447.00,155.75 L448.00,154.33 L449.00,152.90 L450.00,151.46 L451.00,150.01 L452.00,148.55 L453.00,147.09 L454.00,145.62 L455.00,144.14 L456.00,142.65 L457.00,141.15 L458.00,139.65 L459.00,138.14 L460.00,136.62 L461.00,135.09 L462.00,133.56 L463.00,132.02 L464.00,130.47 L465.00,128.92 L466.00,127.36 L467.00,125.79 L468.00,124.22 L469.00,122.64 L470.00,121.05 L471.00,119.46 L472.00,117.86 L473.00,116.25 L474.00,114.64 L475.00,113.03 L476.00,111.41 L477.00,109.78 L478.00,108.14 L479.00,106.51 L480.00,104.86 L481.00,103.21 L482.00,101.56 L483.00,99.90 L484.00,98.24 L485.00,96.57 L486.00,94.90 L487.00,93.22 L488.00,91.54 L489.00,89.85 L490.00,88.16 L491.00,86.47 L492.00,84.77 L493.00,83.07 L494.00,81.36 L495.00,79.66 L496.00,77.94 L497.00,76.23 L498.00,74.51 L499.00,72.79 L500.00,71.06 L501.00,69.33 L502.00,67.60 L503.00,65.87 L504.00,64.13 L505.00,62.39 L506.00,60.65 L507.00,58.91 L508.00,57.16 L509.00,55.41 L510.00,53.67 L510.50,52.79" fill="none" stroke="#ff0000" stroke-width="1.38" stroke-dasharray="3.57 1.19 1.19 1.19 1.19 1.19" stroke-dashoffset="-1" clip-path="url(#c1)" stroke-linejoin="round"/>
<path d="M523.40,10.10 L524.40,10.15 L525.40,10.20 L526.40,10.25 L527.40,10.31 L528.40,10.37 L529.40,10.42 L530.40,10.49 L531.40,10.55 L532.40,10.61 L533.40,10.68 L534.40,10.74 L535.40,10.81 L536.40,10.88 L537.40,10.96 L538.40,11.03 L539.40,11.10 L540.40,11.17 L541.40,11.25 L542.40,11.32 L543.40,11.40 L544.40,11.48 L545.40,11.56 L546.40,11.64 L547.40,11.72 L548.40,11.81 L549.40,11.90 L550.40,11.99 L551.40,12.09 L552.40,12.19 L553.40,12.29 L554.40,12.39 L555.40,12.50 L556.40,12.61 L557.40,12.73 L558.40,12.85 L559.40,12.97 L560.40,13.10 L561.40,13.24 L562.40,13.38 L563.40,13.54 L564.40,13.71 L565.40,13.88 L566.40,14.07 L567.40,14.26 L568.40,14.46 L569.40,14.67 L570.40,14.89 L571.40,15.12 L572.40,15.35 L573.40,15.59 L574.40,15.83 L575.40,16.08 L576.40,16.34 L577.40,16.60 L578.40,16.87 L579.40,17.14 L580.40,17.41 L581.40,17.69 L582.40,17.98 L583.40,18.26 L584.40,18.55 L585.40,18.84 L586.40,19.14 L587.40,19.44 L588.40,19.76 L589.40,20.09 L590.40,20.42 L591.40,20.77 L592.40,21.13 L593.40,21.49 L594.40,21.86 L595.40,22.25 L596.40,22.64 L597.40,23.03 L598.40,23.44 L599.40,23.85 L600.40,24.27 L601.40,24.70 L602.40,25.13 L603.40,25.57 L604.40,26.02 L605.40,26.47 L606.40,26.93 L607.40,27.39 L608.40,27.86 L609.40,28.33 L610.40,28.81 L611.40,29.29 L612.40,29.78 L613.40,30.29 L614.40,30.80 L615.40,31.33 L616.40,31.87 L617.40,32.42 L618.40,32.97 L619.40,33.54 L620.40,34.12 L621.40,34.70 L622.40,35.30 L623.40,35.90 L624.40,36.51 L625.40,37.13 L626.40,37.76 L627.40,38.39 L628.40,39.03 L629.40,39.68 L630.40,40.33 L631.40,40.99 L632.40,41.66 L633.40,42.33 L634.40,43.01 L635.40,43.69 L636.40,44.38 L637.40,45.08 L638.40,45.79 L639.40,46.52 L640.40,47.27 L641.40,48.02 L642.40,48.79 L643.40,49.57 L644.40,50.36 L645.40,51.15 L646.40,51.96 L647.40,52.77 L648.40,53.59 L649.40,54.42 L650.40,55.25 L651.40,56.09 L652.40,56.93 L653.40,57.77 L654.40,58.62 L655.40,59.46 L656.40,60.31 L657.40,61.16 L658.40,62.00 L659.40,62.84 L660.40,63.68 L661.40,64.52 L662.40,65.36 L663.40,66.21 L664.40,67.05 L665.40,67.90 L666.40,68.75 L667.40,69.60 L668.40,70.46 L669.40,71.33 L670.40,72.20 L671.40,73.09 L672.40,73.98 L673.40,74.89 L674.40,75.80 L675.40,76.73 L676.40,77.67 L677.40,78.63 L678.40,79.60 L679.40,80.59 L680.40,81.59 L681.40,82.61 L682.40,83.65 L683.40,84.71 L684.40,85.79 L685.40,86.89 L686.40,88.01 L687.40,89.14 L688.40,90.29 L689.40,91.45 L690.40,92.63 L691.40,93.83 L692.40,95.04 L693.40,96.27 L694.40,97.51 L695.40,98.76 L696.40,100.03 L697.40,101.30 L698.40,102.59 L699.40,103.90 L700.40,105.21 L701.40,106.53 L702.40,107.89 L703.40,109.28 L704.40,110.69 L705.40,112.14 L706.40,113.60 L707.40,115.08 L708.40,116.58 L709.40,118.09 L710.40,119.60 L711.40,121.12 L712.40,122.64 L713.40,124.15 L714.40,125.66 L715.40,127.15 L716.40,128.64 L717.40,130.14 L718.40,131.64 L719.40,133.15 L720.40,134.68 L721.40,136.24 L722.40,137.82 L723.40,139.44 L724.40,141.10 L725.40,142.80 L726.40,144.55 L727.40,146.35 L728.40,148.18 L729.40,150.05 L730.40,151.98 L731.40,153.95 L732.40,155.98 L733.40,158.07 L734.40,160.23 L735.40,162.46 L736.40,164.77 L737.40,167.13 L738.40,169.57 L739.40,172.10 L740.40,174.76 L741.40,177.55 L742.40,180.52 L743.40,183.68 L744.40,187.13 L745.40,191.10 L746.40,195.48 L747.40,200.07 L748.40,204.70 L749.40,209.21 L750.40,213.40 L751.40,217.24 L752.40,220.88 L752.60,221.60" fill="none" stroke="#0000ff" stroke-width="1.38" clip-path="url(#c2)" stroke-linejoin="round"/>
<path d="M523.40,165.00 L523.65,165.63 L523.90,166.22 L524.15,166.76 L524.40,167.23 L524.65,167.62 L524.90,167.91 L525.15,168.16 L525.40,168.38 L525.65,168.57 L525.90,168.74 L526.15,168.88 L526.40,169.00 L526.65,169.11 L526.90,169.21 L527.15,169.31 L527.40,169.39 L527.65,169.45 L527.90,169.49 L528.15,169.50 L528.40,169.49 L528.65,169.46 L528.90,169.42 L529.15,169.37 L529.40,169.31 L529.65,169.23 L529.90,169.15 L530.15,169.06 L530.40,168.96 L530.65,168.85 L530.90,168.74 L531.15,168.63 L531.40,168.51 L531.65,168.39 L531.90,168.28 L532.15,168.16 L532.40,168.05 L532.65,167.93 L532.90,167.81 L533.15,167.68 L533.40,167.54 L533.65,167.39 L533.90,167.24 L534.15,167.08 L534.40,166.92 L534.65,166.75 L534.90,166.57 L535.15,166.39 L535.40,166.21 L535.65,166.02 L535.90,165.83 L536.15,165.63 L536.40,165.44 L536.65,165.24 L536.90,165.04 L537.15,164.84 L537.40,164.64 L537.65,164.44 L537.90,164.24 L538.15,164.04 L538.40,163.84 L538.65,163.65 L538.90,163.45 L539.15,163.26 L539.40,163.07 L539.65,162.89 L539.90,162.71 L540.15,162.52 L540.40,162.34 L540.65,162.15 L540.90,161.97 L541.15,161.78 L541.40,161.60 L541.65,161.41 L541.90,161.22 L542.15,161.04 L542.40,160.85 L542.65,160.67 L542.90,160.48 L543.15,160.29 L543.40,160.10 L543.65,159.92 L543.90,159.73 L544.15,159.54 L544.40,159.35 L544.65,159.16 L544.90,158.98 L545.15,158.79 L545.40,158.60 L545.65,158.41 L545.90,158.22 L546.15,158.03 L546.40,157.84 L546.65,157.65 L546.90,157.46 L547.15,157.26 L547.40,157.07 L547.65,156.88 L547.90,156.69 L548.15,156.49 L548.40,156.30 L548.65,156.11 L548.90,155.91 L549.15,155.72 L549.40,155.53 L549.65,155.33 L549.90,155.14 L550.15,154.94 L550.40,154.74 L550.65,154.55 L550.90,154.35 L551.15,154.15 L551.40,153.96 L551.65,153.76 L551.90,153.56 L552.15,153.36 L552.40,153.16 L552.65,152.96 L552.90,152.76 L553.15,152.56 L553.40,152.36 L553.65,152.16 L553.90,151.96 L554.15,151.75 L554.40,151.55 L554.65,151.35 L554.90,151.14 L555.15,150.94 L555.40,150.73 L555.65,150.53 L555.90,150.32 L556.15,150.11 L556.40,149.90 L556.65,149.69 L556.90,149.48 L557.15,149.27 L557.40,149.06 L557.65,148.85 L557.90,148.64 L558.15,148.43 L558.40,148.22 L558.65,148.01 L558.90,147.79 L559.15,147.58 L559.40,147.37 L559.65,147.15 L559.90,146.94 L560.15,146.73 L560.40,146.51 L560.65,146.30 L560.90,146.08 L561.15,145.87 L561.40,145.65 L561.65,145.43 L561.90,145.22 L562.15,145.00 L562.40,144.79 L562.65,144.57 L562.90,144.35 L563.15,144.14 L563.40,143.92 L563.65,143.70 L563.90,143.49 L564.15,143.27 L564.40,143.05 L564.65,142.84 L564.90,142.62 L565.15,142.40 L565.40,142.19 L565.65,141.97 L565.90,141.75 L566.15,141.54 L566.40,141.32 L566.65,141.11 L566.90,140.89 L567.15,140.67 L567.40,140.46 L567.65,140.24 L567.90,140.03 L568.15,139.81 L568.40,139.60 L568.65,139.39 L568.90,139.17 L569.15,138.96 L569.40,138.74 L569.65,138.53 L569.90,138.31 L570.15,138.10 L570.40,137.88 L570.65,137.67 L570.90,137.45 L571.15,137.24 L571.40,137.02 L571.65,136.81 L571.90,136.59 L572.15,136.37 L572.40,136.16 L572.65,135.94 L572.90,135.73 L573.15,135.51 L573.40,135.29 L573.65,135.08 L573.90,134.86 L574.15,134.65 L574.40,134.43 L574.65,134.21 L574.90,134.00 L575.15,133.78 L575.40,133.56 L575.65,133.35 L575.90,133.13 L576.15,132.92 L576.40,132.70 L576.65,132.48 L576.90,132.27 L577.15,132.05 L577.40,131.83 L577.65,131.62 L577.90,131.40 L578.15,131.19 L578.40,130.97 L578.65,130.75 L578.90,130.54 L579.15,130.32 L579.40,130.10 L579.65,129.89 L579.90,129.67 L580.15,129.46 L580.40,129.24 L580.65,129.03 L580.90,128.81 L581.15,128.59 L581.40,128.38 L581.65,128.16 L581.90,127.95 L582.15,127.73 L582.40,127.52 L582.65,127.30 L582.90,127.09 L583.15,126.87 L583.40,126.65 L583.65,126.44 L583.90,126.22 L584.15,126.00 L584.40,125.78 L584.65,125.56 L584.90,125.34 L585.15,125.12 L585.40,124.90 L585.65,124.68 L585.90,124.46 L586.15,124.24 L586.40,124.01 L586.65,123.79 L586.90,123.57 L587.15,123.34 L587.40,123.12 L587.65,122.90 L587.90,122.67 L588.15,122.45 L588.40,122.23 L588.65,122.00 L588.90,121.78 L589.15,121.56 L589.40,121.33 L589.65,121.11 L589.90,120.89 L590.15,120.67 L590.40,120.45 L590.65,120.23 L590.90,120.01 L591.15,119.79 L591.40,119.57 L591.65,119.35 L591.90,119.13 L592.15,118.91 L592.40,118.70 L592.65,118.48 L592.90,118.27 L593.15,118.06 L593.40,117.84 L593.65,117.63 L593.90,117.42 L594.15,117.21 L594.40,117.01 L594.65,116.80 L594.90,116.60 L595.15,116.39 L595.40,116.19 L595.65,115.99 L595.90,115.79 L596.15,115.59 L596.40,115.39 L596.65,115.20 L596.90,115.01 L597.15,114.81 L597.40,114.63 L597.65,114.44 L597.90,114.25 L598.15,114.07 L598.40,113.88 L598.65,113.70 L598.90,113.51 L599.15,113.33 L599.40,113.15 L599.65,112.97 L599.90,112.79 L600.15,112.61 L600.40,112.43 L600.65,112.25 L600.90,112.08 L601.15,111.90 L601.40,111.72 L601.65,111.55 L601.90,111.38 L602.15,111.20 L602.40,111.03 L602.65,110.86 L602.90,110.69 L603.15,110.52 L603.40,110.35 L603.65,110.18 L603.90,110.01 L604.15,109.84 L604.40,109.67 L604.65,109.51 L604.90,109.34 L605.15,109.17 L605.40,109.01 L605.65,108.85 L605.90,108.68 L606.15,108.52 L606.40,108.36 L606.65,108.20 L606.90,108.03 L607.15,107.87 L607.40,107.71 L607.65,107.55 L607.90,107.40 L608.15,107.24 L608.40,107.08 L608.65,106.92 L608.90,106.77 L609.15,106.61 L609.40,106.46 L609.65,106.30 L609.90,106.15 L610.15,105.99 L610.40,105.84 L610.65,105.69 L610.90,105.53 L611.15,105.38 L611.40,105.23 L611.65,105.08 L611.90,104.93 L612.15,104.78 L612.40,104.63 L612.65,104.48 L612.90,104.33 L613.15,104.18 L613.40,104.04 L613.65,103.89 L613.90,103.74 L614.15,103.59 L614.40,103.45 L614.65,103.30 L614.90,103.16 L615.15,103.01 L615.40,102.87 L615.65,102.72 L615.90,102.58 L616.15,102.43 L616.40,102.29 L616.65,102.14 L616.90,102.00 L617.15,101.86 L617.40,101.72 L617.65,101.57 L617.90,101.43 L618.15,101.29 L618.40,101.15 L618.65,101.01 L618.90,100.87 L619.15,100.73 L619.40,100.59 L619.65,100.45 L619.90,100.31 L620.15,100.17 L620.40,100.03 L620.65,99.90 L620.90,99.76 L621.15,99.62 L621.40,99.49 L621.65,99.35 L621.90,99.22 L622.15,99.08 L622.40,98.95 L622.65,98.81 L622.90,98.68 L623.15,98.55 L623.40,98.42 L623.65,98.29 L623.90,98.15 L624.15,98.02 L624.40,97.89 L624.65,97.77 L624.90,97.64 L625.15,97.51 L625.40,97.38 L625.65,97.25 L625.90,97.13 L626.15,97.00 L626.40,96.88 L626.65,96.75 L626.90,96.63 L627.15,96.51 L627.40,96.38 L627.65,96.26 L627.90,96.14 L628.15,96.02 L628.40,95.90 L628.65,95.78 L628.90,95.66 L629.15,95.55 L629.40,95.43 L629.65,95.31 L629.90,95.20 L630.15,95.08 L630.40,94.97 L630.65,94.86 L630.90,94.74 L631.15,94.63 L631.40,94.52 L631.65,94.41 L631.90,94.30 L632.15,94.19 L632.40,94.08 L632.65,93.97 L632.90,93.86 L633.15,93.75 L633.40,93.64 L633.65,93.53 L633.90,93.42 L634.15,93.31 L634.40,93.20 L634.65,93.09 L634.90,92.98 L635.15,92.87 L635.40,92.77 L635.65,92.66 L635.90,92.55 L636.15,92.45 L636.40,92.34 L636.65,92.24 L636.90,92.13 L637.15,92.03 L637.40,91.92 L637.65,91.82 L637.90,91.71 L638.15,91.61 L638.40,91.51 L638.65,91.41 L638.90,91.31 L639.15,91.21 L639.40,91.10 L639.65,91.01 L639.90,90.91 L640.15,90.81 L640.40,90.71 L640.65,90.61 L640.90,90.52 L641.15,90.42 L641.40,90.32 L641.65,90.23 L641.90,90.13 L642.15,90.04 L642.40,89.95 L642.65,89.86 L642.90,89.76 L643.15,89.67 L643.40,89.58 L643.65,89.49 L643.90,89.41 L644.15,89.32 L644.40,89.23 L644.65,89.15 L644.90,89.06 L645.15,88.98 L645.40,88.89 L645.65,88.81 L645.90,88.73 L646.15,88.65 L646.40,88.57 L646.65,88.49 L646.90,88.41 L647.15,88.33 L647.40,88.25 L647.65,88.18 L647.90,88.10 L648.15,88.03 L648.40,87.96 L648.65,87.89 L648.90,87.81 L649.15,87.74 L649.40,87.67 L649.65,87.60 L649.90,87.53 L650.15,87.46 L650.40,87.39 L650.65,87.32 L650.90,87.25 L651.15,87.18 L651.40,87.11 L651.65,87.05 L651.90,86.98 L652.15,86.91 L652.40,86.84 L652.65,86.77 L652.90,86.71 L653.15,86.64 L653.40,86.57 L653.65,86.51 L653.90,86.44 L654.15,86.38 L654.40,86.31 L654.65,86.25 L654.90,86.18 L655.15,86.12 L655.40,86.06 L655.65,85.99 L655.90,85.93 L656.15,85.87 L656.40,85.81 L656.65,85.75 L656.90,85.68 L657.15,85.62 L657.40,85.56 L657.65,85.51 L657.90,85.45 L658.15,85.39 L658.40,85.33 L658.65,85.27 L658.90,85.22 L659.15,85.16 L659.40,85.11 L659.65,85.05 L659.90,85.00 L660.15,84.94 L660.40,84.89 L660.65,84.84 L660.90,84.78 L661.15,84.73 L661.40,84.68 L661.65,84.63 L661.90,84.58 L662.15,84.53 L662.40,84.49 L662.65,84.44 L662.90,84.39 L663.15,84.34 L663.40,84.30 L663.65,84.25 L663.90,84.21 L664.15,84.17 L664.40,84.12 L664.65,84.08 L664.90,84.04 L665.15,84.00 L665.40,83.96 L665.65,83.92 L665.90,83.88 L666.15,83.85 L666.40,83.81 L666.65,83.78 L666.90,83.74 L667.15,83.71 L667.40,83.67 L667.65,83.64 L667.90,83.61 L668.15,83.57 L668.40,83.54 L668.65,83.50 L668.90,83.47 L669.15,83.44 L669.40,83.40 L669.65,83.37 L669.90,83.34 L670.15,83.30 L670.40,83.27 L670.65,83.23 L670.90,83.20 L671.15,83.17 L671.40,83.13 L671.65,83.10 L671.90,83.07 L672.15,83.04 L672.40,83.00 L672.65,82.97 L672.90,82.94 L673.15,82.91 L673.40,82.87 L673.65,82.84 L673.90,82.81 L674.15,82.78 L674.40,82.75 L674.65,82.72 L674.90,82.69 L675.15,82.66 L675.40,82.63 L675.65,82.60 L675.90,82.57 L676.15,82.54 L676.40,82.52 L676.65,82.49 L676.90,82.46 L677.15,82.43 L677.40,82.41 L677.65,82.38 L677.90,82.36 L678.15,82.33 L678.40,82.31 L678.65,82.29 L678.90,82.26 L679.15,82.24 L679.40,82.22 L679.65,82.20 L679.90,82.18 L680.15,82.16 L680.40,82.14 L680.65,82.12 L680.90,82.10 L681.15,82.08 L681.40,82.07 L681.65,82.05 L681.90,82.03 L682.15,82.02 L682.40,82.01 L682.65,81.99 L682.90,81.98 L683.15,81.97 L683.40,81.96 L683.65,81.95 L683.90,81.94 L684.15,81.93 L684.40,81.92 L684.65,81.92 L684.90,81.91 L685.15,81.91 L685.40,81.90 L685.65,81.90 L685.90,81.90 L686.15,81.90 L686.40,81.90 L686.65,81.90 L686.90,81.90 L687.15,81.91 L687.40,81.91 L687.65,81.92 L687.90,81.93 L688.15,81.93 L688.40,81.94 L688.65,81.95 L688.90,81.97 L689.15,81.98 L689.40,81.99 L689.65,82.01 L689.90,82.02 L690.15,82.04 L690.40,82.06 L690.65,82.07 L690.90,82.09 L691.15,82.11 L691.40,82.13 L691.65,82.16 L691.90,82.18 L692.15,82.20 L692.40,82.23 L692.65,82.25 L692.90,82.28 L693.15,82.31 L693.40,82.33 L693.65,82.36 L693.90,82.39 L694.15,82.42 L694.40,82.45 L694.65,82.48 L694.90,82.51 L695.15,82.55 L695.40,82.58 L695.65,82.61 L695.90,82.65 L696.15,82.68 L696.40,82.72 L696.65,82.76 L696.90,82.79 L697.15,82.83 L697.40,82.87 L697.65,82.91 L697.90,82.95 L698.15,82.98 L698.40,83.02 L698.65,83.07 L698.90,83.11 L699.15,83.15 L699.40,83.19 L699.65,83.23 L699.90,83.27 L700.15,83.32 L700.40,83.36 L700.65,83.40 L700.90,83.45 L701.15,83.49 L701.40,83.54 L701.65,83.58 L701.90,83.63 L702.15,83.67 L702.40,83.72 L702.65,83.76 L702.90,83.81 L703.15,83.85 L703.40,83.90 L703.65,83.95 L703.90,83.99 L704.15,84.04 L704.40,84.09 L704.65,84.13 L704.90,84.18 L705.15,84.23 L705.40,84.28 L705.65,84.33 L705.90,84.38 L706.15,84.44 L706.40,84.49 L706.65,84.55 L706.90,84.61 L707.15,84.67 L707.40,84.74 L707.65,84.80 L707.90,84.87 L708.15,84.94 L708.40,85.01 L708.65,85.08 L708.90,85.15 L709.15,85.23 L709.40,85.30 L709.65,85.38 L709.90,85.46 L710.15,85.54 L710.40,85.62 L710.65,85.71 L710.90,85.79 L711.15,85.88 L711.40,85.97 L711.65,86.06 L711.90,86.15 L712.15,86.25 L712.40,86.34 L712.65,86.44 L712.90,86.53 L713.15,86.63 L713.40,86.73 L713.65,86.83 L713.90,86.94 L714.15,87.04 L714.40,87.15 L714.65,87.26 L714.90,87.36 L715.15,87.47 L715.40,87.58 L715.65,87.70 L715.90,87.81 L716.15,87.92 L716.40,88.04 L716.65,88.16 L716.90,88.28 L717.15,88.39 L717.40,88.52 L717.65,88.64 L717.90,88.76 L718.15,88.88 L718.40,89.01 L718.65,89.13 L718.90,89.26 L719.15,89.39 L719.40,89.52 L719.65,89.65 L719.90,89.78 L720.15,89.91 L720.40,90.05 L720.65,90.18 L720.90,90.32 L721.15,90.45 L721.40,90.59 L721.65,90.73 L721.90,90.87 L722.15,91.01 L722.40,91.16 L722.65,91.31 L722.90,91.47 L723.15,91.63 L723.40,91.79 L723.65,91.96 L723.90,92.13 L724.15,92.30 L724.40,92.48 L724.65,92.66 L724.90,92.84 L725.15,93.02 L725.40,93.21 L725.65,93.41 L725.90,93.60 L726.15,93.80 L726.40,94.01 L726.65,94.21 L726.90,94.42 L727.15,94.63 L727.40,94.85 L727.65,95.07 L727.90,95.29 L728.15,95.51 L728.40,95.74 L728.65,95.97 L728.90,96.20 L729.15,96.44 L729.40,96.68 L729.65,96.92 L729.90,97.16 L730.15,97.41 L730.40,97.66 L730.65,97.91 L730.90,98.17 L731.15,98.42 L731.40,98.68 L731.65,98.95 L731.90,99.21 L732.15,99.48 L732.40,99.75 L732.65,100.02 L732.90,100.30 L733.15,100.58 L733.40,100.86 L733.65,101.14 L733.90,101.42 L734.15,101.71 L734.40,102.00 L734.65,102.29 L734.90,102.59 L735.15,102.88 L735.40,103.18 L735.65,103.48 L735.90,103.79 L736.15,104.11 L736.40,104.44 L736.65,104.77 L736.90,105.12 L737.15,105.47 L737.40,105.83 L737.65,106.20 L737.90,106.57 L738.15,106.95 L738.40,107.34 L738.65,107.74 L738.90,108.14 L739.15,108.54 L739.40,108.96 L739.65,109.37 L739.90,109.80 L740.15,110.23 L740.40,110.66 L740.65,111.10 L740.90,111.54 L741.15,111.99 L741.40,112.44 L741.65,112.90 L741.90,113.35 L742.15,113.82 L742.40,114.28 L742.65,114.75 L742.90,115.22 L743.15,115.69 L743.40,116.17 L743.65,116.64 L743.90,117.12 L744.15,117.60 L744.40,118.08 L744.65,118.56 L744.90,119.05 L745.15,119.53 L745.40,120.01 L745.65,120.50 L745.90,120.98 L746.15,121.47 L746.40,121.96 L746.65,122.46 L746.90,122.97 L747.15,123.48 L747.40,124.00 L747.65,124.52 L747.90,125.06 L748.15,125.60 L748.40,126.16 L748.65,126.73 L748.90,127.31 L749.15,127.90 L749.40,128.50 L749.65,129.12 L749.90,129.76 L750.15,130.41 L750.40,131.10 L750.65,131.80 L750.90,132.53 L751.15,133.27 L751.40,134.04 L751.65,134.81 L751.90,135.61 L752.15,136.42 L752.40,137.24 L752.60,137.90" fill="none" stroke="#bf00bf" stroke-width="1.38" clip-path="url(#c2)" stroke-linejoin="round"/>
<g fill="#bf00bf" clip-path="url(#c2)"><circle cx="523.00" cy="165.00" r="1.6"/><circle cx="539.50" cy="163.00" r="1.6"/><circle cx="553.60" cy="152.20" r="1.6"/><circle cx="568.40" cy="139.60" r="1.6"/><circle cx="583.00" cy="127.00" r="1.6"/><circle cx="597.70" cy="114.40" r="1.6"/><circle cx="613.80" cy="103.80" r="1.6"/><circle cx="631.00" cy="94.70" r="1.6"/><circle cx="648.60" cy="87.90" r="1.6"/><circle cx="667.20" cy="83.70" r="1.6"/><circle cx="686.20" cy="81.90" r="1.6"/><circle cx="705.00" cy="84.20" r="1.6"/><circle cx="721.60" cy="90.70" r="1.6"/><circle cx="735.50" cy="103.30" r="1.6"/><circle cx="745.60" cy="120.40" r="1.6"/></g>
<path d="M523.40,132.30 L523.65,133.04 L523.90,133.74 L524.15,134.40 L524.40,135.00 L524.65,135.55 L524.90,136.03 L525.15,136.45 L525.40,136.84 L525.65,137.21 L525.90,137.54 L526.15,137.83 L526.40,138.06 L526.65,138.23 L526.90,138.37 L527.15,138.50 L527.40,138.62 L527.65,138.73 L527.90,138.81 L528.15,138.87 L528.40,138.90 L528.65,138.90 L528.90,138.88 L529.15,138.85 L529.40,138.81 L529.65,138.76 L529.90,138.70 L530.15,138.63 L530.40,138.56 L530.65,138.48 L530.90,138.39 L531.15,138.30 L531.40,138.20 L531.65,138.11 L531.90,138.01 L532.15,137.91 L532.40,137.82 L532.65,137.72 L532.90,137.63 L533.15,137.55 L533.40,137.46 L533.65,137.37 L533.90,137.28 L534.15,137.19 L534.40,137.09 L534.65,136.99 L534.90,136.89 L535.15,136.79 L535.40,136.69 L535.65,136.58 L535.90,136.48 L536.15,136.37 L536.40,136.25 L536.65,136.14 L536.90,136.03 L537.15,135.91 L537.40,135.79 L537.65,135.67 L537.90,135.55 L538.15,135.43 L538.40,135.30 L538.65,135.17 L538.90,135.04 L539.15,134.91 L539.40,134.77 L539.65,134.64 L539.90,134.50 L540.15,134.36 L540.40,134.21 L540.65,134.07 L540.90,133.92 L541.15,133.77 L541.40,133.62 L541.65,133.47 L541.90,133.31 L542.15,133.16 L542.40,133.00 L542.65,132.84 L542.90,132.68 L543.15,132.52 L543.40,132.35 L543.65,132.19 L543.90,132.02 L544.15,131.85 L544.40,131.68 L544.65,131.51 L544.90,131.34 L545.15,131.16 L545.40,130.99 L545.65,130.81 L545.90,130.63 L546.15,130.45 L546.40,130.27 L546.65,130.09 L546.90,129.91 L547.15,129.73 L547.40,129.55 L547.65,129.36 L547.90,129.18 L548.15,129.00 L548.40,128.81 L548.65,128.62 L548.90,128.44 L549.15,128.25 L549.40,128.06 L549.65,127.87 L549.90,127.68 L550.15,127.50 L550.40,127.31 L550.65,127.12 L550.90,126.93 L551.15,126.74 L551.40,126.55 L551.65,126.36 L551.90,126.17 L552.15,125.98 L552.40,125.79 L552.65,125.60 L552.90,125.41 L553.15,125.22 L553.40,125.03 L553.65,124.84 L553.90,124.65 L554.15,124.46 L554.40,124.27 L554.65,124.08 L554.90,123.89 L555.15,123.69 L555.40,123.50 L555.65,123.30 L555.90,123.10 L556.15,122.89 L556.40,122.69 L556.65,122.49 L556.90,122.28 L557.15,122.07 L557.40,121.86 L557.65,121.65 L557.90,121.44 L558.15,121.23 L558.40,121.02 L558.65,120.81 L558.90,120.59 L559.15,120.38 L559.40,120.16 L559.65,119.95 L559.90,119.73 L560.15,119.51 L560.40,119.30 L560.65,119.08 L560.90,118.86 L561.15,118.64 L561.40,118.43 L561.65,118.21 L561.90,117.99 L562.15,117.77 L562.40,117.56 L562.65,117.34 L562.90,117.12 L563.15,116.91 L563.40,116.69 L563.65,116.48 L563.90,116.27 L564.15,116.05 L564.40,115.84 L564.65,115.63 L564.90,115.42 L565.15,115.21 L565.40,115.00 L565.65,114.80 L565.90,114.59 L566.15,114.39 L566.40,114.18 L566.65,113.98 L566.90,113.78 L567.15,113.58 L567.40,113.39 L567.65,113.19 L567.90,113.00 L568.15,112.81 L568.40,112.62 L568.65,112.44 L568.90,112.25 L569.15,112.07 L569.40,111.88 L569.65,111.70 L569.90,111.51 L570.15,111.33 L570.40,111.15 L570.65,110.96 L570.90,110.78 L571.15,110.59 L571.40,110.41 L571.65,110.23 L571.90,110.05 L572.15,109.86 L572.40,109.68 L572.65,109.50 L572.90,109.32 L573.15,109.14 L573.40,108.96 L573.65,108.78 L573.90,108.60 L574.15,108.42 L574.40,108.24 L574.65,108.07 L574.90,107.89 L575.15,107.71 L575.40,107.54 L575.65,107.36 L575.90,107.19 L576.15,107.02 L576.40,106.84 L576.65,106.67 L576.90,106.50 L577.15,106.33 L577.40,106.16 L577.65,105.99 L577.90,105.83 L578.15,105.66 L578.40,105.49 L578.65,105.33 L578.90,105.17 L579.15,105.00 L579.40,104.84 L579.65,104.68 L579.90,104.52 L580.15,104.36 L580.40,104.21 L580.65,104.05 L580.90,103.90 L581.15,103.74 L581.40,103.59 L581.65,103.44 L581.90,103.29 L582.15,103.14 L582.40,103.00 L582.65,102.85 L582.90,102.71 L583.15,102.56 L583.40,102.42 L583.65,102.28 L583.90,102.14 L584.15,102.01 L584.40,101.87 L584.65,101.74 L584.90,101.60 L585.15,101.47 L585.40,101.34 L585.65,101.21 L585.90,101.08 L586.15,100.95 L586.40,100.82 L586.65,100.69 L586.90,100.55 L587.15,100.42 L587.40,100.29 L587.65,100.16 L587.90,100.02 L588.15,99.89 L588.40,99.76 L588.65,99.63 L588.90,99.50 L589.15,99.36 L589.40,99.23 L589.65,99.10 L589.90,98.97 L590.15,98.84 L590.40,98.71 L590.65,98.58 L590.90,98.45 L591.15,98.33 L591.40,98.20 L591.65,98.07 L591.90,97.95 L592.15,97.82 L592.40,97.70 L592.65,97.58 L592.90,97.46 L593.15,97.34 L593.40,97.22 L593.65,97.10 L593.90,96.98 L594.15,96.86 L594.40,96.75 L594.65,96.64 L594.90,96.52 L595.15,96.41 L595.40,96.30 L595.65,96.20 L595.90,96.09 L596.15,95.99 L596.40,95.88 L596.65,95.78 L596.90,95.68 L597.15,95.59 L597.40,95.49 L597.65,95.40 L597.90,95.31 L598.15,95.22 L598.40,95.13 L598.65,95.04 L598.90,94.96 L599.15,94.88 L599.40,94.80 L599.65,94.73 L599.90,94.65 L600.15,94.58 L600.40,94.51 L600.65,94.44 L600.90,94.38 L601.15,94.32 L601.40,94.26 L601.65,94.20 L601.90,94.15 L602.15,94.10 L602.40,94.05 L602.65,94.01 L602.90,93.97 L603.15,93.92 L603.40,93.88 L603.65,93.84 L603.90,93.80 L604.15,93.76 L604.40,93.71 L604.65,93.67 L604.90,93.63 L605.15,93.59 L605.40,93.55 L605.65,93.51 L605.90,93.47 L606.15,93.43 L606.40,93.39 L606.65,93.35 L606.90,93.31 L607.15,93.28 L607.40,93.24 L607.65,93.20 L607.90,93.16 L608.15,93.13 L608.40,93.09 L608.65,93.05 L608.90,93.02 L609.15,92.98 L609.40,92.95 L609.65,92.91 L609.90,92.88 L610.15,92.85 L610.40,92.81 L610.65,92.78 L610.90,92.75 L611.15,92.72 L611.40,92.69 L611.65,92.66 L611.90,92.63 L612.15,92.60 L612.40,92.57 L612.65,92.54 L612.90,92.51 L613.15,92.49 L613.40,92.46 L613.65,92.43 L613.90,92.41 L614.15,92.38 L614.40,92.36 L614.65,92.34 L614.90,92.31 L615.15,92.29 L615.40,92.27 L615.65,92.25 L615.90,92.23 L616.15,92.21 L616.40,92.19 L616.65,92.18 L616.90,92.16 L617.15,92.14 L617.40,92.13 L617.65,92.11 L617.90,92.10 L618.15,92.09 L618.40,92.08 L618.65,92.06 L618.90,92.05 L619.15,92.04 L619.40,92.04 L619.65,92.03 L619.90,92.02 L620.15,92.02 L620.40,92.01 L620.65,92.01 L620.90,92.00 L621.15,92.00 L621.40,92.00 L621.65,92.00 L621.90,92.00 L622.15,92.00 L622.40,92.01 L622.65,92.01 L622.90,92.02 L623.15,92.02 L623.40,92.03 L623.65,92.04 L623.90,92.05 L624.15,92.06 L624.40,92.07 L624.65,92.08 L624.90,92.10 L625.15,92.11 L625.40,92.13 L625.65,92.14 L625.90,92.16 L626.15,92.18 L626.40,92.20 L626.65,92.22 L626.90,92.24 L627.15,92.26 L627.40,92.28 L627.65,92.31 L627.90,92.33 L628.15,92.36 L628.40,92.38 L628.65,92.41 L628.90,92.44 L629.15,92.47 L629.40,92.50 L629.65,92.53 L629.90,92.56 L630.15,92.59 L630.40,92.62 L630.65,92.65 L630.90,92.68 L631.15,92.72 L631.40,92.75 L631.65,92.79 L631.90,92.82 L632.15,92.86 L632.40,92.90 L632.65,92.93 L632.90,92.97 L633.15,93.01 L633.40,93.05 L633.65,93.09 L633.90,93.13 L634.15,93.17 L634.40,93.21 L634.65,93.25 L634.90,93.29 L635.15,93.33 L635.40,93.37 L635.65,93.42 L635.90,93.46 L636.15,93.50 L636.40,93.55 L636.65,93.59 L636.90,93.63 L637.15,93.68 L637.40,93.72 L637.65,93.77 L637.90,93.81 L638.15,93.86 L638.40,93.90 L638.65,93.95 L638.90,94.00 L639.15,94.04 L639.40,94.09 L639.65,94.13 L639.90,94.18 L640.15,94.23 L640.40,94.28 L640.65,94.33 L640.90,94.38 L641.15,94.44 L641.40,94.50 L641.65,94.56 L641.90,94.62 L642.15,94.69 L642.40,94.76 L642.65,94.83 L642.90,94.90 L643.15,94.97 L643.40,95.05 L643.65,95.13 L643.90,95.21 L644.15,95.29 L644.40,95.38 L644.65,95.46 L644.90,95.55 L645.15,95.64 L645.40,95.73 L645.65,95.82 L645.90,95.92 L646.15,96.02 L646.40,96.11 L646.65,96.21 L646.90,96.31 L647.15,96.42 L647.40,96.52 L647.65,96.63 L647.90,96.73 L648.15,96.84 L648.40,96.95 L648.65,97.06 L648.90,97.17 L649.15,97.29 L649.40,97.40 L649.65,97.52 L649.90,97.63 L650.15,97.75 L650.40,97.87 L650.65,97.99 L650.90,98.11 L651.15,98.23 L651.40,98.35 L651.65,98.47 L651.90,98.60 L652.15,98.72 L652.40,98.85 L652.65,98.97 L652.90,99.10 L653.15,99.22 L653.40,99.35 L653.65,99.48 L653.90,99.61 L654.15,99.74 L654.40,99.87 L654.65,100.00 L654.90,100.13 L655.15,100.26 L655.40,100.39 L655.65,100.52 L655.90,100.65 L656.15,100.78 L656.40,100.91 L656.65,101.04 L656.90,101.17 L657.15,101.30 L657.40,101.43 L657.65,101.56 L657.90,101.70 L658.15,101.83 L658.40,101.96 L658.65,102.09 L658.90,102.23 L659.15,102.36 L659.40,102.50 L659.65,102.64 L659.90,102.79 L660.15,102.93 L660.40,103.08 L660.65,103.22 L660.90,103.37 L661.15,103.52 L661.40,103.67 L661.65,103.83 L661.90,103.98 L662.15,104.14 L662.40,104.30 L662.65,104.45 L662.90,104.61 L663.15,104.78 L663.40,104.94 L663.65,105.10 L663.90,105.27 L664.15,105.43 L664.40,105.60 L664.65,105.77 L664.90,105.94 L665.15,106.11 L665.40,106.28 L665.65,106.46 L665.90,106.63 L666.15,106.81 L666.40,106.98 L666.65,107.16 L666.90,107.34 L667.15,107.52 L667.40,107.69 L667.65,107.87 L667.90,108.06 L668.15,108.24 L668.40,108.42 L668.65,108.60 L668.90,108.79 L669.15,108.97 L669.40,109.16 L669.65,109.34 L669.90,109.53 L670.15,109.71 L670.40,109.90 L670.65,110.09 L670.90,110.28 L671.15,110.46 L671.40,110.65 L671.65,110.84 L671.90,111.03 L672.15,111.22 L672.40,111.41 L672.65,111.60 L672.90,111.79 L673.15,111.98 L673.40,112.17 L673.65,112.36 L673.90,112.55 L674.15,112.74 L674.40,112.94 L674.65,113.13 L674.90,113.32 L675.15,113.51 L675.40,113.71 L675.65,113.90 L675.90,114.09 L676.15,114.29 L676.40,114.48 L676.65,114.68 L676.90,114.88 L677.15,115.07 L677.40,115.27 L677.65,115.47 L677.90,115.67 L678.15,115.87 L678.40,116.07 L678.65,116.28 L678.90,116.48 L679.15,116.68 L679.40,116.89 L679.65,117.10 L679.90,117.30 L680.15,117.51 L680.40,117.72 L680.65,117.93 L680.90,118.15 L681.15,118.36 L681.40,118.57 L681.65,118.79 L681.90,119.01 L682.15,119.23 L682.40,119.45 L682.65,119.67 L682.90,119.89 L683.15,120.12 L683.40,120.34 L683.65,120.57 L683.90,120.80 L684.15,121.03 L684.40,121.26 L684.65,121.50 L684.90,121.73 L685.15,121.97 L685.40,122.21 L685.65,122.45 L685.90,122.69 L686.15,122.94 L686.40,123.18 L686.65,123.43 L686.90,123.68 L687.15,123.94 L687.40,124.19 L687.65,124.45 L687.90,124.71 L688.15,124.97 L688.40,125.24 L688.65,125.51 L688.90,125.79 L689.15,126.07 L689.40,126.35 L689.65,126.64 L689.90,126.93 L690.15,127.23 L690.40,127.53 L690.65,127.83 L690.90,128.13 L691.15,128.44 L691.40,128.75 L691.65,129.06 L691.90,129.38 L692.15,129.69 L692.40,130.01 L692.65,130.33 L692.90,130.66 L693.15,130.98 L693.40,131.31 L693.65,131.64 L693.90,131.97 L694.15,132.30 L694.40,132.63 L694.65,132.97 L694.90,133.30 L695.15,133.64 L695.40,133.98 L695.65,134.31 L695.90,134.65 L696.15,134.99 L696.40,135.33 L696.65,135.66 L696.90,136.00 L697.15,136.34 L697.40,136.68 L697.65,137.02 L697.90,137.35 L698.15,137.69 L698.40,138.02 L698.65,138.36 L698.90,138.69 L699.15,139.02 L699.40,139.35 L699.65,139.68 L699.90,140.01 L700.15,140.34 L700.40,140.66 L700.65,140.98 L700.90,141.31 L701.15,141.63 L701.40,141.95 L701.65,142.27 L701.90,142.59 L702.15,142.91 L702.40,143.23 L702.65,143.55 L702.90,143.87 L703.15,144.19 L703.40,144.52 L703.65,144.84 L703.90,145.16 L704.15,145.48 L704.40,145.80 L704.65,146.12 L704.90,146.44 L705.15,146.76 L705.40,147.09 L705.65,147.41 L705.90,147.74 L706.15,148.06 L706.40,148.39 L706.65,148.72 L706.90,149.04 L707.15,149.37 L707.40,149.70 L707.65,150.04 L707.90,150.37 L708.15,150.70 L708.40,151.04 L708.65,151.38 L708.90,151.72 L709.15,152.06 L709.40,152.40 L709.65,152.74 L709.90,153.09 L710.15,153.44 L710.40,153.79 L710.65,154.14 L710.90,154.50 L711.15,154.85 L711.40,155.21 L711.65,155.57 L711.90,155.94 L712.15,156.30 L712.40,156.67 L712.65,157.04 L712.90,157.41 L713.15,157.78 L713.40,158.15 L713.65,158.53 L713.90,158.90 L714.15,159.28 L714.40,159.66 L714.65,160.05 L714.90,160.43 L715.15,160.82 L715.40,161.21 L715.65,161.60 L715.90,161.99 L716.15,162.38 L716.40,162.78 L716.65,163.17 L716.90,163.57 L717.15,163.97 L717.40,164.37 L717.65,164.78 L717.90,165.18 L718.15,165.59 L718.40,166.00 L718.65,166.41 L718.90,166.82 L719.15,167.24 L719.40,167.66 L719.65,168.07 L719.90,168.49 L720.15,168.92 L720.40,169.34 L720.65,169.77 L720.90,170.19 L721.15,170.62 L721.40,171.05 L721.65,171.49 L721.90,171.92 L722.15,172.36 L722.40,172.80 L722.65,173.24 L722.90,173.68 L723.15,174.13 L723.40,174.58 L723.65,175.03 L723.90,175.48 L724.15,175.93 L724.40,176.39 L724.65,176.85 L724.90,177.31 L725.15,177.77 L725.40,178.24 L725.65,178.71 L725.90,179.18 L726.15,179.65 L726.40,180.13 L726.65,180.61 L726.90,181.09 L727.15,181.57 L727.40,182.06 L727.65,182.54 L727.90,183.03 L728.15,183.53 L728.40,184.02 L728.65,184.52 L728.90,185.03 L729.15,185.53 L729.40,186.04 L729.65,186.55 L729.90,187.06 L730.15,187.57 L730.40,188.09 L730.65,188.61 L730.90,189.14 L731.15,189.67 L731.40,190.21 L731.65,190.75 L731.90,191.29 L732.15,191.84 L732.40,192.39 L732.65,192.95 L732.90,193.51 L733.15,194.07 L733.40,194.64 L733.65,195.21 L733.90,195.78 L734.15,196.36 L734.40,196.94 L734.65,197.52 L734.90,198.10 L735.15,198.69 L735.40,199.27 L735.65,199.86 L735.90,200.46 L736.15,201.05 L736.40,201.65 L736.65,202.24 L736.90,202.84 L737.15,203.44 L737.40,204.04 L737.65,204.64 L737.90,205.24 L738.15,205.84 L738.40,206.44 L738.65,207.04 L738.90,207.65 L739.15,208.26 L739.40,208.87 L739.65,209.48 L739.90,210.10 L740.15,210.71 L740.40,211.33 L740.65,211.96 L740.90,212.58 L741.15,213.21 L741.40,213.84 L741.65,214.47 L741.90,215.10 L742.15,215.74 L742.40,216.37 L742.65,217.02 L742.90,217.66 L743.15,218.30 L743.40,218.95 L743.65,219.60 L743.90,220.25 L744.15,220.91 L744.40,221.56 L744.65,222.23 L744.90,222.91 L745.15,223.59 L745.30,224.00" fill="none" stroke="#008000" stroke-width="1.38" clip-path="url(#c2)" stroke-linejoin="round"/>
<g fill="none" stroke="#008000" stroke-width="1.0" clip-path="url(#c2)"><circle cx="523.00" cy="132.30" r="2.15"/><circle cx="538.40" cy="135.30" r="2.15"/><circle cx="554.10" cy="124.50" r="2.15"/><circle cx="568.70" cy="112.40" r="2.15"/><circle cx="585.10" cy="101.50" r="2.15"/><circle cx="602.70" cy="94.00" r="2.15"/><circle cx="621.60" cy="92.00" r="2.15"/><circle cx="640.00" cy="94.20" r="2.15"/><circle cx="658.10" cy="101.80" r="2.15"/><circle cx="673.70" cy="112.40" r="2.15"/><circle cx="687.70" cy="124.50" r="2.15"/><circle cx="700.20" cy="140.40" r="2.15"/><circle cx="711.60" cy="155.50" r="2.15"/><circle cx="721.60" cy="171.40" r="2.15"/><circle cx="730.50" cy="188.30" r="2.15"/><circle cx="738.30" cy="206.20" r="2.15"/></g>
<path d="M523.40,87.10 L523.65,87.73 L523.90,88.32 L524.15,88.88 L524.40,89.39 L524.65,89.85 L524.90,90.25 L525.15,90.61 L525.40,90.94 L525.65,91.25 L525.90,91.54 L526.15,91.78 L526.40,91.98 L526.65,92.13 L526.90,92.25 L527.15,92.37 L527.40,92.48 L527.65,92.57 L527.90,92.64 L528.15,92.68 L528.40,92.70 L528.65,92.69 L528.90,92.67 L529.15,92.63 L529.40,92.58 L529.65,92.52 L529.90,92.44 L530.15,92.36 L530.40,92.26 L530.65,92.16 L530.90,92.06 L531.15,91.94 L531.40,91.83 L531.65,91.70 L531.90,91.58 L532.15,91.46 L532.40,91.33 L532.65,91.21 L532.90,91.09 L533.15,90.97 L533.40,90.85 L533.65,90.74 L533.90,90.61 L534.15,90.49 L534.40,90.35 L534.65,90.22 L534.90,90.08 L535.15,89.93 L535.40,89.79 L535.65,89.64 L535.90,89.48 L536.15,89.33 L536.40,89.17 L536.65,89.01 L536.90,88.85 L537.15,88.69 L537.40,88.52 L537.65,88.36 L537.90,88.19 L538.15,88.03 L538.40,87.86 L538.65,87.69 L538.90,87.53 L539.15,87.36 L539.40,87.20 L539.65,87.04 L539.90,86.87 L540.15,86.71 L540.40,86.54 L540.65,86.37 L540.90,86.21 L541.15,86.04 L541.40,85.87 L541.65,85.70 L541.90,85.53 L542.15,85.36 L542.40,85.18 L542.65,85.01 L542.90,84.84 L543.15,84.66 L543.40,84.49 L543.65,84.31 L543.90,84.14 L544.15,83.96 L544.40,83.78 L544.65,83.60 L544.90,83.42 L545.15,83.25 L545.40,83.07 L545.65,82.88 L545.90,82.70 L546.15,82.52 L546.40,82.34 L546.65,82.16 L546.90,81.97 L547.15,81.79 L547.40,81.61 L547.65,81.42 L547.90,81.24 L548.15,81.05 L548.40,80.87 L548.65,80.68 L548.90,80.49 L549.15,80.31 L549.40,80.12 L549.65,79.93 L549.90,79.74 L550.15,79.55 L550.40,79.37 L550.65,79.18 L550.90,78.99 L551.15,78.80 L551.40,78.61 L551.65,78.42 L551.90,78.23 L552.15,78.03 L552.40,77.84 L552.65,77.65 L552.90,77.46 L553.15,77.27 L553.40,77.08 L553.65,76.89 L553.90,76.69 L554.15,76.50 L554.40,76.31 L554.65,76.12 L554.90,75.92 L555.15,75.73 L555.40,75.54 L555.65,75.34 L555.90,75.14 L556.15,74.95 L556.40,74.75 L556.65,74.55 L556.90,74.36 L557.15,74.16 L557.40,73.96 L557.65,73.76 L557.90,73.56 L558.15,73.36 L558.40,73.16 L558.65,72.95 L558.90,72.75 L559.15,72.55 L559.40,72.35 L559.65,72.14 L559.90,71.94 L560.15,71.73 L560.40,71.53 L560.65,71.32 L560.90,71.12 L561.15,70.91 L561.40,70.71 L561.65,70.50 L561.90,70.29 L562.15,70.09 L562.40,69.88 L562.65,69.67 L562.90,69.46 L563.15,69.25 L563.40,69.05 L563.65,68.84 L563.90,68.63 L564.15,68.42 L564.40,68.21 L564.65,68.00 L564.90,67.79 L565.15,67.59 L565.40,67.38 L565.65,67.17 L565.90,66.96 L566.15,66.75 L566.40,66.54 L566.65,66.33 L566.90,66.12 L567.15,65.91 L567.40,65.70 L567.65,65.49 L567.90,65.28 L568.15,65.08 L568.40,64.87 L568.65,64.66 L568.90,64.45 L569.15,64.24 L569.40,64.03 L569.65,63.82 L569.90,63.61 L570.15,63.40 L570.40,63.19 L570.65,62.98 L570.90,62.77 L571.15,62.55 L571.40,62.34 L571.65,62.12 L571.90,61.91 L572.15,61.69 L572.40,61.47 L572.65,61.26 L572.90,61.04 L573.15,60.82 L573.40,60.60 L573.65,60.39 L573.90,60.17 L574.15,59.95 L574.40,59.73 L574.65,59.51 L574.90,59.29 L575.15,59.07 L575.40,58.86 L575.65,58.64 L575.90,58.42 L576.15,58.20 L576.40,57.98 L576.65,57.76 L576.90,57.55 L577.15,57.33 L577.40,57.11 L577.65,56.90 L577.90,56.68 L578.15,56.47 L578.40,56.25 L578.65,56.04 L578.90,55.82 L579.15,55.61 L579.40,55.40 L579.65,55.19 L579.90,54.98 L580.15,54.77 L580.40,54.56 L580.65,54.35 L580.90,54.14 L581.15,53.94 L581.40,53.73 L581.65,53.53 L581.90,53.33 L582.15,53.12 L582.40,52.92 L582.65,52.73 L582.90,52.53 L583.15,52.33 L583.40,52.14 L583.65,51.94 L583.90,51.75 L584.15,51.56 L584.40,51.37 L584.65,51.18 L584.90,51.00 L585.15,50.81 L585.40,50.62 L585.65,50.43 L585.90,50.25 L586.15,50.06 L586.40,49.88 L586.65,49.69 L586.90,49.51 L587.15,49.33 L587.40,49.14 L587.65,48.96 L587.90,48.78 L588.15,48.60 L588.40,48.42 L588.65,48.24 L588.90,48.06 L589.15,47.88 L589.40,47.70 L589.65,47.52 L589.90,47.35 L590.15,47.17 L590.40,46.99 L590.65,46.82 L590.90,46.64 L591.15,46.47 L591.40,46.30 L591.65,46.12 L591.90,45.95 L592.15,45.78 L592.40,45.61 L592.65,45.44 L592.90,45.27 L593.15,45.10 L593.40,44.93 L593.65,44.76 L593.90,44.59 L594.15,44.42 L594.40,44.26 L594.65,44.09 L594.90,43.93 L595.15,43.76 L595.40,43.60 L595.65,43.43 L595.90,43.27 L596.15,43.11 L596.40,42.94 L596.65,42.78 L596.90,42.62 L597.15,42.46 L597.40,42.30 L597.65,42.14 L597.90,41.99 L598.15,41.83 L598.40,41.67 L598.65,41.51 L598.90,41.36 L599.15,41.20 L599.40,41.05 L599.65,40.89 L599.90,40.74 L600.15,40.59 L600.40,40.43 L600.65,40.28 L600.90,40.13 L601.15,39.97 L601.40,39.82 L601.65,39.67 L601.90,39.52 L602.15,39.37 L602.40,39.21 L602.65,39.06 L602.90,38.91 L603.15,38.76 L603.40,38.61 L603.65,38.46 L603.90,38.32 L604.15,38.17 L604.40,38.02 L604.65,37.87 L604.90,37.72 L605.15,37.58 L605.40,37.43 L605.65,37.28 L605.90,37.14 L606.15,36.99 L606.40,36.85 L606.65,36.70 L606.90,36.56 L607.15,36.42 L607.40,36.28 L607.65,36.13 L607.90,35.99 L608.15,35.85 L608.40,35.71 L608.65,35.57 L608.90,35.43 L609.15,35.29 L609.40,35.16 L609.65,35.02 L609.90,34.88 L610.15,34.75 L610.40,34.61 L610.65,34.48 L610.90,34.34 L611.15,34.21 L611.40,34.08 L611.65,33.95 L611.90,33.82 L612.15,33.69 L612.40,33.56 L612.65,33.43 L612.90,33.30 L613.15,33.18 L613.40,33.05 L613.65,32.92 L613.90,32.80 L614.15,32.68 L614.40,32.55 L614.65,32.43 L614.90,32.31 L615.15,32.19 L615.40,32.07 L615.65,31.96 L615.90,31.84 L616.15,31.72 L616.40,31.61 L616.65,31.49 L616.90,31.38 L617.15,31.27 L617.40,31.15 L617.65,31.04 L617.90,30.93 L618.15,30.82 L618.40,30.71 L618.65,30.60 L618.90,30.49 L619.15,30.38 L619.40,30.27 L619.65,30.16 L619.90,30.05 L620.15,29.94 L620.40,29.84 L620.65,29.73 L620.90,29.62 L621.15,29.52 L621.40,29.41 L621.65,29.31 L621.90,29.20 L622.15,29.10 L622.40,29.00 L622.65,28.90 L622.90,28.79 L623.15,28.69 L623.40,28.59 L623.65,28.49 L623.90,28.39 L624.15,28.29 L624.40,28.19 L624.65,28.09 L624.90,27.99 L625.15,27.90 L625.40,27.80 L625.65,27.70 L625.90,27.60 L626.15,27.51 L626.40,27.41 L626.65,27.32 L626.90,27.22 L627.15,27.13 L627.40,27.03 L627.65,26.94 L627.90,26.85 L628.15,26.75 L628.40,26.66 L628.65,26.57 L628.90,26.48 L629.15,26.39 L629.40,26.30 L629.65,26.21 L629.90,26.12 L630.15,26.03 L630.40,25.94 L630.65,25.85 L630.90,25.76 L631.15,25.67 L631.40,25.59 L631.65,25.50 L631.90,25.41 L632.15,25.33 L632.40,25.24 L632.65,25.16 L632.90,25.07 L633.15,24.99 L633.40,24.90 L633.65,24.82 L633.90,24.73 L634.15,24.65 L634.40,24.57 L634.65,24.48 L634.90,24.40 L635.15,24.32 L635.40,24.24 L635.65,24.16 L635.90,24.07 L636.15,23.99 L636.40,23.91 L636.65,23.83 L636.90,23.75 L637.15,23.67 L637.40,23.59 L637.65,23.51 L637.90,23.43 L638.15,23.35 L638.40,23.27 L638.65,23.19 L638.90,23.11 L639.15,23.04 L639.40,22.96 L639.65,22.88 L639.90,22.80 L640.15,22.73 L640.40,22.65 L640.65,22.57 L640.90,22.50 L641.15,22.42 L641.40,22.35 L641.65,22.27 L641.90,22.20 L642.15,22.12 L642.40,22.05 L642.65,21.97 L642.90,21.90 L643.15,21.83 L643.40,21.75 L643.65,21.68 L643.90,21.61 L644.15,21.54 L644.40,21.47 L644.65,21.40 L644.90,21.32 L645.15,21.25 L645.40,21.18 L645.65,21.11 L645.90,21.04 L646.15,20.98 L646.40,20.91 L646.65,20.84 L646.90,20.77 L647.15,20.70 L647.40,20.64 L647.65,20.57 L647.90,20.50 L648.15,20.44 L648.40,20.37 L648.65,20.30 L648.90,20.24 L649.15,20.18 L649.40,20.11 L649.65,20.05 L649.90,19.98 L650.15,19.92 L650.40,19.86 L650.65,19.80 L650.90,19.73 L651.15,19.67 L651.40,19.61 L651.65,19.55 L651.90,19.49 L652.15,19.43 L652.40,19.37 L652.65,19.31 L652.90,19.25 L653.15,19.19 L653.40,19.14 L653.65,19.08 L653.90,19.02 L654.15,18.96 L654.40,18.91 L654.65,18.85 L654.90,18.79 L655.15,18.74 L655.40,18.68 L655.65,18.63 L655.90,18.57 L656.15,18.52 L656.40,18.46 L656.65,18.41 L656.90,18.35 L657.15,18.30 L657.40,18.24 L657.65,18.19 L657.90,18.14 L658.15,18.09 L658.40,18.03 L658.65,17.98 L658.90,17.93 L659.15,17.88 L659.40,17.82 L659.65,17.77 L659.90,17.72 L660.15,17.67 L660.40,17.62 L660.65,17.57 L660.90,17.52 L661.15,17.47 L661.40,17.42 L661.65,17.37 L661.90,17.32 L662.15,17.27 L662.40,17.22 L662.65,17.17 L662.90,17.12 L663.15,17.08 L663.40,17.03 L663.65,16.98 L663.90,16.93 L664.15,16.89 L664.40,16.84 L664.65,16.79 L664.90,16.74 L665.15,16.70 L665.40,16.65 L665.65,16.61 L665.90,16.56 L666.15,16.51 L666.40,16.47 L666.65,16.42 L666.90,16.38 L667.15,16.33 L667.40,16.29 L667.65,16.24 L667.90,16.20 L668.15,16.16 L668.40,16.11 L668.65,16.07 L668.90,16.03 L669.15,15.98 L669.40,15.94 L669.65,15.90 L669.90,15.85 L670.15,15.81 L670.40,15.77 L670.65,15.73 L670.90,15.68 L671.15,15.64 L671.40,15.60 L671.65,15.56 L671.90,15.52 L672.15,15.48 L672.40,15.44 L672.65,15.39 L672.90,15.35 L673.15,15.31 L673.40,15.27 L673.65,15.23 L673.90,15.19 L674.15,15.15 L674.40,15.11 L674.65,15.07 L674.90,15.04 L675.15,15.00 L675.40,14.96 L675.65,14.92 L675.90,14.88 L676.15,14.84 L676.40,14.80 L676.65,14.77 L676.90,14.73 L677.15,14.69 L677.40,14.65 L677.65,14.61 L677.90,14.58 L678.15,14.54 L678.40,14.50 L678.65,14.47 L678.90,14.43 L679.15,14.39 L679.40,14.36 L679.65,14.32 L679.90,14.28 L680.15,14.25 L680.40,14.21 L680.65,14.18 L680.90,14.14 L681.15,14.11 L681.40,14.07 L681.65,14.04 L681.90,14.00 L682.15,13.97 L682.40,13.93 L682.65,13.90 L682.90,13.86 L683.15,13.83 L683.40,13.79 L683.65,13.76 L683.90,13.72 L684.15,13.69 L684.40,13.66 L684.65,13.62 L684.90,13.59 L685.15,13.56 L685.40,13.52 L685.65,13.49 L685.90,13.46 L686.15,13.42 L686.40,13.39 L686.65,13.36 L686.90,13.32 L687.15,13.29 L687.40,13.26 L687.65,13.23 L687.90,13.19 L688.15,13.16 L688.40,13.13 L688.65,13.10 L688.90,13.07 L689.15,13.03 L689.40,13.00 L689.65,12.97 L689.90,12.94 L690.15,12.91 L690.40,12.87 L690.65,12.84 L690.90,12.81 L691.15,12.78 L691.40,12.75 L691.65,12.72 L691.90,12.69 L692.15,12.66 L692.40,12.63 L692.65,12.59 L692.90,12.56 L693.15,12.53 L693.40,12.50 L693.65,12.47 L693.90,12.44 L694.15,12.41 L694.40,12.38 L694.65,12.35 L694.90,12.32 L695.15,12.29 L695.40,12.26 L695.65,12.23 L695.90,12.20 L696.15,12.17 L696.40,12.15 L696.65,12.12 L696.90,12.09 L697.15,12.06 L697.40,12.03 L697.65,12.00 L697.90,11.97 L698.15,11.94 L698.40,11.91 L698.65,11.89 L698.90,11.86 L699.15,11.83 L699.40,11.80 L699.65,11.77 L699.90,11.74 L700.15,11.72 L700.40,11.69 L700.65,11.66 L700.90,11.63 L701.15,11.60 L701.40,11.58 L701.65,11.55 L701.90,11.52 L702.15,11.50 L702.40,11.47 L702.65,11.44 L702.90,11.41 L703.15,11.39 L703.40,11.36 L703.65,11.33 L703.90,11.31 L704.15,11.28 L704.40,11.25 L704.65,11.23 L704.90,11.20 L705.15,11.17 L705.40,11.15 L705.65,11.12 L705.90,11.10 L706.15,11.07 L706.40,11.04 L706.65,11.02 L706.90,10.99 L707.15,10.97 L707.40,10.94 L707.65,10.92 L707.90,10.89 L708.15,10.87 L708.40,10.84 L708.65,10.82 L708.90,10.79 L709.15,10.77 L709.40,10.74 L709.65,10.72 L709.90,10.69 L710.15,10.67 L710.40,10.64 L710.65,10.62 L710.90,10.59 L711.15,10.57 L711.40,10.55 L711.65,10.52 L711.90,10.50 L712.15,10.48 L712.40,10.45 L712.65,10.43 L712.90,10.41 L713.15,10.38 L713.40,10.36 L713.65,10.34 L713.90,10.32 L714.15,10.29 L714.40,10.27 L714.65,10.25 L714.90,10.23 L715.15,10.20 L715.40,10.18 L715.65,10.16 L715.90,10.14 L716.15,10.12 L716.40,10.09 L716.65,10.07 L716.90,10.05 L717.15,10.03 L717.40,10.01 L717.65,9.98 L717.90,9.96 L718.15,9.94 L718.40,9.92 L718.65,9.90 L718.90,9.88 L719.15,9.85 L719.40,9.83 L719.65,9.81 L719.90,9.79 L720.15,9.77 L720.40,9.75 L720.65,9.72 L720.90,9.70 L721.15,9.68 L721.40,9.66 L721.65,9.64 L721.90,9.62 L722.15,9.59 L722.40,9.57 L722.65,9.55 L722.90,9.53 L723.15,9.51 L723.40,9.49 L723.65,9.46 L723.90,9.44 L724.15,9.42 L724.40,9.40 L724.65,9.38 L724.90,9.35 L725.15,9.33 L725.40,9.31 L725.65,9.29 L725.90,9.26 L726.15,9.24 L726.40,9.22 L726.65,9.20 L726.90,9.17 L727.15,9.15 L727.40,9.13 L727.65,9.10 L727.90,9.08 L728.15,9.06 L728.40,9.03 L728.65,9.01 L728.90,8.99 L729.15,8.96 L729.40,8.94 L729.65,8.92 L729.90,8.89 L730.15,8.87 L730.40,8.84 L730.65,8.82 L730.90,8.79 L731.15,8.77 L731.40,8.74 L731.65,8.72 L731.90,8.69 L732.15,8.67 L732.40,8.64 L732.65,8.62 L732.90,8.59 L733.15,8.57 L733.40,8.54 L733.65,8.52 L733.90,8.49 L734.15,8.47 L734.40,8.44 L734.65,8.41 L734.90,8.39 L735.15,8.36 L735.40,8.34 L735.65,8.31 L735.90,8.29 L736.15,8.26 L736.40,8.24 L736.65,8.21 L736.90,8.19 L737.15,8.16 L737.40,8.14 L737.65,8.11 L737.90,8.09 L738.15,8.06 L738.40,8.04 L738.65,8.01 L738.90,7.99 L739.15,7.96 L739.40,7.94 L739.65,7.91 L739.90,7.89 L740.15,7.86 L740.40,7.84 L740.65,7.82 L740.90,7.79 L741.15,7.77 L741.40,7.75 L741.65,7.72 L741.90,7.70 L742.15,7.68 L742.40,7.65 L742.65,7.63 L742.90,7.61 L743.15,7.59 L743.40,7.56 L743.65,7.54 L743.90,7.52 L744.15,7.50 L744.40,7.48 L744.65,7.46 L744.90,7.44 L745.15,7.41 L745.40,7.39 L745.65,7.37 L745.90,7.35 L746.15,7.33 L746.40,7.32 L746.65,7.30 L746.90,7.28 L747.15,7.26 L747.40,7.24 L747.65,7.22 L747.90,7.20 L748.15,7.19 L748.40,7.17 L748.65,7.15 L748.90,7.13 L749.15,7.12 L749.40,7.10 L749.65,7.08 L749.90,7.07 L750.15,7.05 L750.40,7.04 L750.65,7.02 L750.90,7.00 L751.15,6.99 L751.40,6.97 L751.65,6.96 L751.90,6.94 L752.15,6.93 L752.40,6.91 L752.60,6.90" fill="none" stroke="#ff0000" stroke-width="1.38" clip-path="url(#c2)" stroke-linejoin="round"/>
<g fill="none" stroke="#ff0000" stroke-width="0.85" clip-path="url(#c2)"><rect x="520.55" y="84.65" width="4.9" height="4.9"/><rect x="536.95" y="84.75" width="4.9" height="4.9"/><rect x="552.35" y="73.55" width="4.9" height="4.9"/><rect x="566.75" y="61.75" width="4.9" height="4.9"/><rect x="581.65" y="49.15" width="4.9" height="4.9"/><rect x="597.35" y="38.35" width="4.9" height="4.9"/><rect x="613.75" y="29.25" width="4.9" height="4.9"/><rect x="631.55" y="22.25" width="4.9" height="4.9"/><rect x="650.25" y="16.85" width="4.9" height="4.9"/><rect x="668.95" y="13.15" width="4.9" height="4.9"/><rect x="687.75" y="10.45" width="4.9" height="4.9"/><rect x="706.35" y="8.35" width="4.9" height="4.9"/><rect x="725.25" y="6.65" width="4.9" height="4.9"/><rect x="744.15" y="4.85" width="4.9" height="4.9"/></g>
<path d="M523.40,6.00 L752.60,6.00" fill="none" stroke="#0000ff" stroke-width="1.38" stroke-dasharray="4.40 1.90" stroke-dashoffset="-1" clip-path="url(#c2)" stroke-linejoin="round"/>
</g>
<path d="M51.18,221.5v1.4 M59.29,221.5v1.4 M65.04,221.5v1.4 M69.50,221.5v1.4 M73.14,221.5v1.4 M76.22,221.5v1.4 M78.89,221.5v1.4 M81.24,221.5v1.4 M83.35,221.5v2.4 M97.20,221.5v1.4 M105.31,221.5v1.4 M111.06,221.5v1.4 M115.52,221.5v1.4 M119.16,221.5v1.4 M122.24,221.5v1.4 M124.91,221.5v1.4 M127.26,221.5v1.4 M129.37,221.5v2.4 M143.22,221.5v1.4 M151.33,221.5v1.4 M157.08,221.5v1.4 M161.54,221.5v1.4 M165.18,221.5v1.4 M168.26,221.5v1.4 M170.93,221.5v1.4 M173.28,221.5v1.4 M175.39,221.5v2.4 M189.24,221.5v1.4 M197.35,221.5v1.4 M203.10,221.5v1.4 M207.56,221.5v1.4 M211.20,221.5v1.4 M214.28,221.5v1.4 M216.95,221.5v1.4 M219.30,221.5v1.4 M221.41,221.5v2.4 M235.26,221.5v1.4 M243.37,221.5v1.4 M249.12,221.5v1.4 M253.58,221.5v1.4 M257.22,221.5v1.4 M260.30,221.5v1.4 M262.97,221.5v1.4 M265.32,221.5v1.4 M267.43,221.5v2.4 M38.35,6.00h-2.4 M38.35,77.83h-2.4 M38.35,149.67h-2.4 M38.35,221.50h-2.4 M38.35,56.21h-1.4 M38.35,43.56h-1.4 M38.35,34.59h-1.4 M38.35,27.62h-1.4 M38.35,21.94h-1.4 M38.35,17.13h-1.4 M38.35,12.96h-1.4 M38.35,9.29h-1.4 M38.35,128.04h-1.4 M38.35,115.39h-1.4 M38.35,106.42h-1.4 M38.35,99.45h-1.4 M38.35,93.77h-1.4 M38.35,88.96h-1.4 M38.35,84.79h-1.4 M38.35,81.12h-1.4 M38.35,199.88h-1.4 M38.35,187.23h-1.4 M38.35,178.26h-1.4 M38.35,171.29h-1.4 M38.35,165.61h-1.4 M38.35,160.80h-1.4 M38.35,156.63h-1.4 M38.35,152.96h-1.4" stroke="#000" stroke-width="0.38" fill="none"/><rect x="38.35" y="0.35" width="230.10" height="221.15" fill="none" stroke="#000" stroke-width="0.5"/>
<path d="M293.31,221.5v1.4 M301.44,221.5v1.4 M307.22,221.5v1.4 M311.69,221.5v1.4 M315.35,221.5v1.4 M318.44,221.5v1.4 M321.12,221.5v1.4 M323.49,221.5v1.4 M325.60,221.5v2.4 M339.51,221.5v1.4 M347.64,221.5v1.4 M353.42,221.5v1.4 M357.89,221.5v1.4 M361.55,221.5v1.4 M364.64,221.5v1.4 M367.32,221.5v1.4 M369.69,221.5v1.4 M371.80,221.5v2.4 M385.71,221.5v1.4 M393.84,221.5v1.4 M399.62,221.5v1.4 M404.09,221.5v1.4 M407.75,221.5v1.4 M410.84,221.5v1.4 M413.52,221.5v1.4 M415.89,221.5v1.4 M418.00,221.5v2.4 M431.91,221.5v1.4 M440.04,221.5v1.4 M445.82,221.5v1.4 M450.29,221.5v1.4 M453.95,221.5v1.4 M457.04,221.5v1.4 M459.72,221.5v1.4 M462.09,221.5v1.4 M464.20,221.5v2.4 M478.11,221.5v1.4 M486.24,221.5v1.4 M492.02,221.5v1.4 M496.49,221.5v1.4 M500.15,221.5v1.4 M503.24,221.5v1.4 M505.92,221.5v1.4 M508.29,221.5v1.4 M510.40,221.5v2.4 M280.6,6.00h-2.4 M280.6,77.83h-2.4 M280.6,149.67h-2.4 M280.6,221.50h-2.4 M280.6,56.21h-1.4 M280.6,43.56h-1.4 M280.6,34.59h-1.4 M280.6,27.62h-1.4 M280.6,21.94h-1.4 M280.6,17.13h-1.4 M280.6,12.96h-1.4 M280.6,9.29h-1.4 M280.6,128.04h-1.4 M280.6,115.39h-1.4 M280.6,106.42h-1.4 M280.6,99.45h-1.4 M280.6,93.77h-1.4 M280.6,88.96h-1.4 M280.6,84.79h-1.4 M280.6,81.12h-1.4 M280.6,199.88h-1.4 M280.6,187.23h-1.4 M280.6,178.26h-1.4 M280.6,171.29h-1.4 M280.6,165.61h-1.4 M280.6,160.80h-1.4 M280.6,156.63h-1.4 M280.6,152.96h-1.4" stroke="#000" stroke-width="0.38" fill="none"/><rect x="280.6" y="0.35" width="229.90" height="221.15" fill="none" stroke="#000" stroke-width="0.5"/>
<path d="M535.71,221.5v1.4 M543.82,221.5v1.4 M549.57,221.5v1.4 M554.04,221.5v1.4 M557.68,221.5v1.4 M560.77,221.5v1.4 M563.44,221.5v1.4 M565.79,221.5v1.4 M567.90,221.5v2.4 M581.76,221.5v1.4 M589.87,221.5v1.4 M595.62,221.5v1.4 M600.09,221.5v1.4 M603.73,221.5v1.4 M606.82,221.5v1.4 M609.49,221.5v1.4 M611.84,221.5v1.4 M613.95,221.5v2.4 M627.81,221.5v1.4 M635.92,221.5v1.4 M641.67,221.5v1.4 M646.14,221.5v1.4 M649.78,221.5v1.4 M652.87,221.5v1.4 M655.54,221.5v1.4 M657.89,221.5v1.4 M660.00,221.5v2.4 M673.86,221.5v1.4 M681.97,221.5v1.4 M687.72,221.5v1.4 M692.19,221.5v1.4 M695.83,221.5v1.4 M698.92,221.5v1.4 M701.59,221.5v1.4 M703.94,221.5v1.4 M706.05,221.5v2.4 M719.91,221.5v1.4 M728.02,221.5v1.4 M733.77,221.5v1.4 M738.24,221.5v1.4 M741.88,221.5v1.4 M744.97,221.5v1.4 M747.64,221.5v1.4 M749.99,221.5v1.4 M752.10,221.5v2.4 M523.4,6.00h-2.4 M523.4,77.83h-2.4 M523.4,149.67h-2.4 M523.4,221.50h-2.4 M523.4,56.21h-1.4 M523.4,43.56h-1.4 M523.4,34.59h-1.4 M523.4,27.62h-1.4 M523.4,21.94h-1.4 M523.4,17.13h-1.4 M523.4,12.96h-1.4 M523.4,9.29h-1.4 M523.4,128.04h-1.4 M523.4,115.39h-1.4 M523.4,106.42h-1.4 M523.4,99.45h-1.4 M523.4,93.77h-1.4 M523.4,88.96h-1.4 M523.4,84.79h-1.4 M523.4,81.12h-1.4 M523.4,199.88h-1.4 M523.4,187.23h-1.4 M523.4,178.26h-1.4 M523.4,171.29h-1.4 M523.4,165.61h-1.4 M523.4,160.80h-1.4 M523.4,156.63h-1.4 M523.4,152.96h-1.4" stroke="#000" stroke-width="0.38" fill="none"/><rect x="523.4" y="0.35" width="229.20" height="221.15" fill="none" stroke="#000" stroke-width="0.5"/>
<text><tspan x="74.99" y="233.00" font-size="9.5">10</tspan><tspan x="87.08" y="230.00" font-size="6.65">1</tspan></text>
<text><tspan x="121.01" y="233.00" font-size="9.5">10</tspan><tspan x="133.10" y="230.00" font-size="6.65">2</tspan></text>
<text><tspan x="167.03" y="233.00" font-size="9.5">10</tspan><tspan x="179.12" y="230.00" font-size="6.65">3</tspan></text>
<text><tspan x="213.05" y="233.00" font-size="9.5">10</tspan><tspan x="225.14" y="230.00" font-size="6.65">4</tspan></text>
<text><tspan x="259.07" y="233.00" font-size="9.5">10</tspan><tspan x="271.16" y="230.00" font-size="6.65">5</tspan></text>
<text><tspan x="317.24" y="233.00" font-size="9.5">10</tspan><tspan x="329.33" y="230.00" font-size="6.65">1</tspan></text>
<text><tspan x="363.44" y="233.00" font-size="9.5">10</tspan><tspan x="375.53" y="230.00" font-size="6.65">2</tspan></text>
<text><tspan x="409.64" y="233.00" font-size="9.5">10</tspan><tspan x="421.73" y="230.00" font-size="6.65">3</tspan></text>
<text><tspan x="455.84" y="233.00" font-size="9.5">10</tspan><tspan x="467.93" y="230.00" font-size="6.65">4</tspan></text>
<text><tspan x="502.04" y="233.00" font-size="9.5">10</tspan><tspan x="514.13" y="230.00" font-size="6.65">5</tspan></text>
<text><tspan x="559.54" y="233.00" font-size="9.5">10</tspan><tspan x="571.63" y="230.00" font-size="6.65">1</tspan></text>
<text><tspan x="605.59" y="233.00" font-size="9.5">10</tspan><tspan x="617.68" y="230.00" font-size="6.65">2</tspan></text>
<text><tspan x="651.64" y="233.00" font-size="9.5">10</tspan><tspan x="663.73" y="230.00" font-size="6.65">3</tspan></text>
<text><tspan x="697.69" y="233.00" font-size="9.5">10</tspan><tspan x="709.78" y="230.00" font-size="6.65">4</tspan></text>
<text><tspan x="743.74" y="233.00" font-size="9.5">10</tspan><tspan x="755.83" y="230.00" font-size="6.65">5</tspan></text>
<text><tspan x="17.13" y="10.00" font-size="9.5">10</tspan><tspan x="29.22" y="7.00" font-size="6.65">2</tspan></text>
<text><tspan x="17.13" y="81.00" font-size="9.5">10</tspan><tspan x="29.22" y="78.00" font-size="6.65">1</tspan></text>
<text><tspan x="17.13" y="153.00" font-size="9.5">10</tspan><tspan x="29.22" y="150.00" font-size="6.65">0</tspan></text>
<text><tspan x="11.56" y="225.00" font-size="9.5">10</tspan><tspan x="23.65" y="222.00" font-size="6.65">−1</tspan></text>
<text x="153.40" y="244.8" font-size="9.5" text-anchor="middle">r (km)</text>
<text x="395.55" y="244.8" font-size="9.5" text-anchor="middle">r (km)</text>
<text x="638.00" y="244.8" font-size="9.5" text-anchor="middle">r (km)</text>
<text transform="translate(7.3,110.92) rotate(-90)" font-size="9.5" text-anchor="middle">Relative reaction rate (%)</text>
<text x="45.6" y="208.9" font-size="10.6">(a)</text>
<text x="288.0" y="208.9" font-size="10.6">(b)</text>
<text x="530.4" y="208.9" font-size="10.6">(c)</text>
<rect x="45.4" y="20.1" width="131.20" height="71.00" rx="1.6" fill="#fff" fill-opacity="0.8" stroke="#ccc" stroke-width="0.8"/><path d="M48.00,27.40H64.40" stroke="#0000ff" stroke-width="1.38" fill="none"/><text><tspan x="70.15" y="30.00" font-size="8.33">NH</tspan><tspan x="82.65" y="32.00" font-size="5.83">3</tspan><tspan x="86.95" y="30.00" font-size="8.33">+h</tspan><tspan x="99.21" y="30.00" font-size="8.33" font-style="italic">ν</tspan><tspan x="105.53" y="30.00" font-size="8.33">→</tspan><tspan x="114.18" y="30.00" font-size="8.33">H+NH</tspan><tspan x="139.92" y="32.00" font-size="5.83">2</tspan><tspan x="141.08" y="26.67" font-size="5.83">+</tspan><tspan x="147.74" y="30.00" font-size="8.33">+e</tspan><tspan x="161.01" y="26.67" font-size="5.83">−</tspan></text><path d="M48.00,38.53H64.40" stroke="#bf00bf" stroke-width="1.38" fill="none"/><g fill="#bf00bf"><circle cx="56.20" cy="38.53" r="1.6"/></g><text><tspan x="70.15" y="41.00" font-size="8.33">NH</tspan><tspan x="82.65" y="43.00" font-size="5.83">2</tspan><tspan x="86.95" y="41.00" font-size="8.33">+ion</tspan><tspan x="108.29" y="41.00" font-size="8.33">→</tspan><tspan x="116.94" y="41.00" font-size="8.33">neutral+NH</tspan><tspan x="166.20" y="43.00" font-size="5.83">2</tspan><tspan x="167.37" y="37.67" font-size="5.83">+</tspan></text><path d="M48.00,49.66H64.40" stroke="#0000ff" stroke-width="1.38" stroke-dasharray="4.40 1.90" fill="none"/><text><tspan x="70.15" y="52.00" font-size="8.33">H</tspan><tspan x="76.41" y="54.00" font-size="5.83">2</tspan><tspan x="80.72" y="52.00" font-size="8.33">O+NH</tspan><tspan x="106.75" y="54.00" font-size="5.83">2</tspan><tspan x="107.92" y="48.67" font-size="5.83">+</tspan><tspan x="116.24" y="52.00" font-size="8.33">→</tspan><tspan x="124.88" y="52.00" font-size="8.33">NH+H</tspan><tspan x="150.62" y="54.00" font-size="5.83">3</tspan><tspan x="154.93" y="52.00" font-size="8.33">O</tspan><tspan x="162.66" y="48.67" font-size="5.83">+</tspan></text><path d="M48.00,60.79H64.40" stroke="#bf00bf" stroke-width="1.38" stroke-dasharray="7.62 1.90 1.19 1.90" fill="none"/><text><tspan x="70.15" y="63.00" font-size="8.33">H</tspan><tspan x="76.41" y="65.00" font-size="5.83">2</tspan><tspan x="80.72" y="63.00" font-size="8.33">O+NH</tspan><tspan x="106.75" y="65.00" font-size="5.83">2</tspan><tspan x="107.92" y="59.67" font-size="5.83">+</tspan><tspan x="116.24" y="63.00" font-size="8.33">→</tspan><tspan x="124.88" y="63.00" font-size="8.33">OH+NH</tspan><tspan x="157.18" y="65.00" font-size="5.83">3</tspan><tspan x="158.35" y="59.67" font-size="5.83">+</tspan></text><path d="M48.00,71.92H64.40" stroke="#008000" stroke-width="1.6" stroke-dasharray="1.25 1.1" fill="none"/><text><tspan x="70.15" y="74.00" font-size="8.33">H</tspan><tspan x="76.41" y="76.00" font-size="5.83">2</tspan><tspan x="80.72" y="74.00" font-size="8.33">O+NH</tspan><tspan x="106.75" y="76.00" font-size="5.83">2</tspan><tspan x="107.92" y="70.67" font-size="5.83">+</tspan><tspan x="116.24" y="74.00" font-size="8.33">→</tspan><tspan x="124.88" y="74.00" font-size="8.33">O+NH</tspan><tspan x="150.92" y="76.00" font-size="5.83">4</tspan><tspan x="152.08" y="70.67" font-size="5.83">+</tspan></text><path d="M48.00,83.05H64.40" stroke="#ff0000" stroke-width="1.38" stroke-dasharray="3.57 1.19 1.19 1.19 1.19 1.19" fill="none"/><text><tspan x="70.15" y="86.00" font-size="8.33">NH</tspan><tspan x="82.65" y="88.00" font-size="5.83">2</tspan><tspan x="83.81" y="82.67" font-size="5.83">+</tspan><tspan x="90.46" y="86.00" font-size="8.33">+e</tspan><tspan x="103.73" y="82.67" font-size="5.83">−</tspan><tspan x="112.05" y="86.00" font-size="8.33">→</tspan><tspan x="120.70" y="86.00" font-size="8.33">Products</tspan></text>
<rect x="284.6" y="75.3" width="132.20" height="71.00" rx="1.6" fill="#fff" fill-opacity="0.8" stroke="#ccc" stroke-width="0.8"/><path d="M287.50,82.60H305.20" stroke="#0000ff" stroke-width="1.38" fill="none"/><text><tspan x="311.20" y="85.00" font-size="8.30">NH</tspan><tspan x="323.65" y="87.00" font-size="5.81">3</tspan><tspan x="327.95" y="85.00" font-size="8.30">+h</tspan><tspan x="340.16" y="85.00" font-size="8.30" font-style="italic">ν</tspan><tspan x="346.46" y="85.00" font-size="8.30">→</tspan><tspan x="355.07" y="85.00" font-size="8.30">NH</tspan><tspan x="367.52" y="87.00" font-size="5.81">3</tspan><tspan x="368.68" y="81.68" font-size="5.81">+</tspan><tspan x="375.31" y="85.00" font-size="8.30">+e</tspan><tspan x="388.54" y="81.68" font-size="5.81">−</tspan></text><path d="M287.50,93.73H305.20" stroke="#bf00bf" stroke-width="1.38" fill="none"/><g fill="#bf00bf"><circle cx="296.35" cy="93.73" r="1.6"/></g><text><tspan x="311.20" y="96.00" font-size="8.30">NH</tspan><tspan x="323.65" y="98.00" font-size="5.81">3</tspan><tspan x="327.95" y="96.00" font-size="8.30">+ion</tspan><tspan x="349.21" y="96.00" font-size="8.30">→</tspan><tspan x="357.82" y="96.00" font-size="8.30">neutral+NH</tspan><tspan x="406.91" y="98.00" font-size="5.81">3</tspan><tspan x="408.07" y="92.68" font-size="5.81">+</tspan></text><path d="M287.50,104.86H305.20" stroke="#0000ff" stroke-width="1.38" stroke-dasharray="4.40 1.90" fill="none"/><text><tspan x="311.20" y="107.00" font-size="8.30">H</tspan><tspan x="317.44" y="109.00" font-size="5.81">2</tspan><tspan x="321.74" y="107.00" font-size="8.30">O+NH</tspan><tspan x="347.68" y="109.00" font-size="5.81">3</tspan><tspan x="348.84" y="103.68" font-size="5.81">+</tspan><tspan x="357.13" y="107.00" font-size="8.30">→</tspan><tspan x="365.74" y="107.00" font-size="8.30">OH+NH</tspan><tspan x="397.92" y="109.00" font-size="5.81">4</tspan><tspan x="399.08" y="103.68" font-size="5.81">+</tspan></text><path d="M287.50,115.99H305.20" stroke="#bf00bf" stroke-width="1.38" stroke-dasharray="7.62 1.90 1.19 1.90" fill="none"/><text><tspan x="311.20" y="119.00" font-size="8.30">NH</tspan><tspan x="323.65" y="121.00" font-size="5.81">3</tspan><tspan x="327.95" y="119.00" font-size="8.30">+NH</tspan><tspan x="347.35" y="121.00" font-size="5.81">3</tspan><tspan x="348.51" y="115.68" font-size="5.81">+</tspan><tspan x="356.80" y="119.00" font-size="8.30">→</tspan><tspan x="365.42" y="119.00" font-size="8.30">NH</tspan><tspan x="377.87" y="121.00" font-size="5.81">2</tspan><tspan x="382.16" y="119.00" font-size="8.30">+NH</tspan><tspan x="401.57" y="121.00" font-size="5.81">4</tspan><tspan x="402.73" y="115.68" font-size="5.81">+</tspan></text><path d="M287.50,127.12H305.20" stroke="#008000" stroke-width="1.6" stroke-dasharray="1.25 1.1" fill="none"/><text><tspan x="311.20" y="130.00" font-size="8.30">OH+NH</tspan><tspan x="343.38" y="132.00" font-size="5.81">3</tspan><tspan x="344.54" y="126.68" font-size="5.81">+</tspan><tspan x="352.83" y="130.00" font-size="8.30">→</tspan><tspan x="361.45" y="130.00" font-size="8.30">O+NH</tspan><tspan x="387.38" y="132.00" font-size="5.81">4</tspan><tspan x="388.54" y="126.68" font-size="5.81">+</tspan></text><path d="M287.50,138.25H305.20" stroke="#ff0000" stroke-width="1.38" stroke-dasharray="3.57 1.19 1.19 1.19 1.19 1.19" fill="none"/><text><tspan x="311.20" y="141.00" font-size="8.30">NH</tspan><tspan x="323.65" y="143.00" font-size="5.81">3</tspan><tspan x="324.81" y="137.68" font-size="5.81">+</tspan><tspan x="331.44" y="141.00" font-size="8.30">+e</tspan><tspan x="344.67" y="137.68" font-size="5.81">−</tspan><tspan x="352.96" y="141.00" font-size="8.30">→</tspan><tspan x="361.57" y="141.00" font-size="8.30">Products</tspan></text>
<rect x="572.3" y="157.3" width="131.20" height="59.50" rx="1.6" fill="#fff" fill-opacity="0.8" stroke="#ccc" stroke-width="0.8"/><path d="M574.80,164.50H592.70" stroke="#0000ff" stroke-width="1.38" fill="none"/><text><tspan x="598.40" y="167.00" font-size="8.40">NH</tspan><tspan x="611.00" y="169.00" font-size="5.88">3</tspan><tspan x="615.34" y="167.00" font-size="8.40">+H</tspan><tspan x="628.70" y="169.00" font-size="5.88">3</tspan><tspan x="633.04" y="167.00" font-size="8.40">O</tspan><tspan x="640.82" y="163.64" font-size="5.88">+</tspan><tspan x="649.21" y="167.00" font-size="8.40">→</tspan><tspan x="657.93" y="167.00" font-size="8.40">H</tspan><tspan x="664.24" y="169.00" font-size="5.88">2</tspan><tspan x="668.58" y="167.00" font-size="8.40">O+NH</tspan><tspan x="694.83" y="169.00" font-size="5.88">4</tspan><tspan x="696.01" y="163.64" font-size="5.88">+</tspan></text><path d="M574.80,175.62H592.70" stroke="#bf00bf" stroke-width="1.38" fill="none"/><g fill="#bf00bf"><circle cx="583.75" cy="175.62" r="1.6"/></g><text><tspan x="598.40" y="178.00" font-size="8.40">NH</tspan><tspan x="611.00" y="180.00" font-size="5.88">3</tspan><tspan x="615.34" y="178.00" font-size="8.40">+H</tspan><tspan x="628.70" y="180.00" font-size="5.88">2</tspan><tspan x="633.04" y="178.00" font-size="8.40">O</tspan><tspan x="640.82" y="174.64" font-size="5.88">+</tspan><tspan x="649.21" y="178.00" font-size="8.40">→</tspan><tspan x="657.93" y="178.00" font-size="8.40">OH+NH</tspan><tspan x="690.49" y="180.00" font-size="5.88">4</tspan><tspan x="691.67" y="174.64" font-size="5.88">+</tspan></text><path d="M574.80,186.74H592.70" stroke="#008000" stroke-width="1.38" fill="none"/><g fill="none" stroke="#008000" stroke-width="1.0"><circle cx="583.75" cy="186.74" r="2.15"/></g><text><tspan x="598.40" y="189.00" font-size="8.40">NH</tspan><tspan x="611.00" y="191.00" font-size="5.88">3</tspan><tspan x="615.34" y="189.00" font-size="8.40">+HCO</tspan><tspan x="642.35" y="185.64" font-size="5.88">+</tspan><tspan x="650.73" y="189.00" font-size="8.40">→</tspan><tspan x="659.45" y="189.00" font-size="8.40">O+NH</tspan><tspan x="685.70" y="191.00" font-size="5.88">4</tspan><tspan x="686.88" y="185.64" font-size="5.88">+</tspan></text><path d="M574.80,197.86H592.70" stroke="#ff0000" stroke-width="1.38" fill="none"/><g fill="none" stroke="#ff0000" stroke-width="0.85"><rect x="581.30" y="195.41" width="4.9" height="4.9"/></g><text><tspan x="598.40" y="200.00" font-size="8.40">NH</tspan><tspan x="611.00" y="202.00" font-size="5.88">3</tspan><tspan x="612.18" y="196.64" font-size="5.88">+</tspan><tspan x="618.88" y="200.00" font-size="8.40">+X-H</tspan><tspan x="642.70" y="200.00" font-size="8.40">→</tspan><tspan x="651.42" y="200.00" font-size="8.40">NH</tspan><tspan x="664.02" y="202.00" font-size="5.88">4</tspan><tspan x="665.19" y="196.64" font-size="5.88">+</tspan><tspan x="671.90" y="200.00" font-size="8.40">+X</tspan></text><path d="M574.80,208.98H592.70" stroke="#0000ff" stroke-width="1.38" stroke-dasharray="4.40 1.90" fill="none"/><text><tspan x="598.40" y="212.00" font-size="8.40">NH</tspan><tspan x="611.00" y="214.00" font-size="5.88">4</tspan><tspan x="612.18" y="208.64" font-size="5.88">+</tspan><tspan x="618.88" y="212.00" font-size="8.40">+e</tspan><tspan x="632.26" y="208.64" font-size="5.88">−</tspan><tspan x="640.64" y="212.00" font-size="8.40">→</tspan><tspan x="649.36" y="212.00" font-size="8.40">Products</tspan></text>
</svg>
</body></html>
